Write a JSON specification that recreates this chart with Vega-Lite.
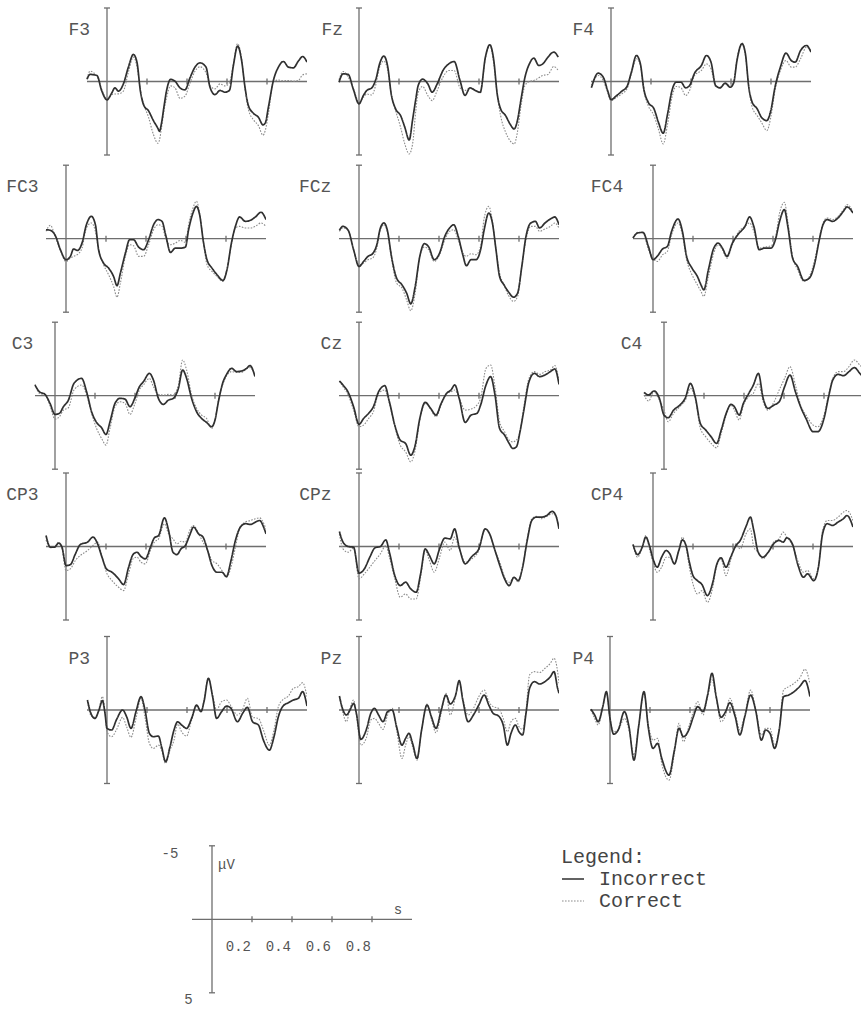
{
"$schema": "https://vega.github.io/schema/vega-lite/v6.json",
"padding": 0,
"background": "white",
"datasets": {
"one": [{"n": 1}],
"caps": [{"uv": -5}, {"uv": 5}],
"xticks": [{"t": 0.2}, {"t": 0.4}, {"t": 0.6}, {"t": 0.8}],
"eeg": [
{"ch":"F3","t":-0.1,"Incorrect":-0.15,"Correct":-0.2},{"ch":"F3","t":-0.085,"Incorrect":-0.48,"Correct":-0.7},{"ch":"F3","t":-0.05,"Incorrect":-0.41,"Correct":-0.34},{"ch":"F3","t":-0.027,"Incorrect":0.61,"Correct":0.5},{"ch":"F3","t":0,"Incorrect":1.25,"Correct":1.18},{"ch":"F3","t":0.023,"Incorrect":0.8,"Correct":0.9},{"ch":"F3","t":0.04,"Incorrect":0.43,"Correct":0.85},{"ch":"F3","t":0.057,"Incorrect":0.66,"Correct":0.84},{"ch":"F3","t":0.082,"Incorrect":0.16,"Correct":0.65},{"ch":"F3","t":0.107,"Incorrect":-0.98,"Correct":-0.64},{"ch":"F3","t":0.132,"Incorrect":-1.84,"Correct":-1.66},{"ch":"F3","t":0.15,"Incorrect":-1.3,"Correct":-1.0},{"ch":"F3","t":0.167,"Incorrect":0.65,"Correct":0.6},{"ch":"F3","t":0.185,"Incorrect":1.65,"Correct":1.6},{"ch":"F3","t":0.207,"Incorrect":1.98,"Correct":2.4},{"ch":"F3","t":0.232,"Incorrect":2.66,"Correct":3.6},{"ch":"F3","t":0.255,"Incorrect":3.2,"Correct":4.2},{"ch":"F3","t":0.262,"Incorrect":3.39,"Correct":4.0},{"ch":"F3","t":0.273,"Incorrect":2.8,"Correct":3.11},{"ch":"F3","t":0.285,"Incorrect":1.7,"Correct":2.0},{"ch":"F3","t":0.298,"Incorrect":0.61,"Correct":1.1},{"ch":"F3","t":0.318,"Incorrect":-0.14,"Correct":0.3},{"ch":"F3","t":0.34,"Incorrect":-0.02,"Correct":0.43},{"ch":"F3","t":0.365,"Incorrect":0.43,"Correct":1.15},{"ch":"F3","t":0.39,"Incorrect":0.57,"Correct":1.0},{"ch":"F3","t":0.415,"Incorrect":-0.25,"Correct":0.1},{"ch":"F3","t":0.44,"Incorrect":-0.98,"Correct":-0.7},{"ch":"F3","t":0.465,"Incorrect":-1.27,"Correct":-1.0},{"ch":"F3","t":0.495,"Incorrect":-0.98,"Correct":-0.6},{"ch":"F3","t":0.515,"Incorrect":0.39,"Correct":0.27},{"ch":"F3","t":0.54,"Incorrect":0.89,"Correct":0.5},{"ch":"F3","t":0.565,"Incorrect":0.61,"Correct":0.16},{"ch":"F3","t":0.59,"Incorrect":0.73,"Correct":0.3},{"ch":"F3","t":0.612,"Incorrect":0.61,"Correct":0.1},{"ch":"F3","t":0.632,"Incorrect":-1.09,"Correct":-1.2},{"ch":"F3","t":0.653,"Incorrect":-2.41,"Correct":-2.57},{"ch":"F3","t":0.673,"Incorrect":-1.43,"Correct":-1.55},{"ch":"F3","t":0.69,"Incorrect":0.39,"Correct":0.5},{"ch":"F3","t":0.707,"Incorrect":1.64,"Correct":1.9},{"ch":"F3","t":0.732,"Incorrect":2.16,"Correct":2.6},{"ch":"F3","t":0.757,"Incorrect":2.43,"Correct":3.0},{"ch":"F3","t":0.78,"Incorrect":2.95,"Correct":3.65},{"ch":"F3","t":0.792,"Incorrect":2.8,"Correct":3.3},{"ch":"F3","t":0.807,"Incorrect":1.75,"Correct":2.2},{"ch":"F3","t":0.832,"Incorrect":-0.07,"Correct":0.0},{"ch":"F3","t":0.857,"Incorrect":-0.98,"Correct":-0.1},{"ch":"F3","t":0.882,"Incorrect":-1.36,"Correct":-0.05},{"ch":"F3","t":0.907,"Incorrect":-0.98,"Correct":-0.07},{"ch":"F3","t":0.932,"Incorrect":-0.93,"Correct":-0.02},{"ch":"F3","t":0.957,"Incorrect":-1.39,"Correct":-0.07},{"ch":"F3","t":0.978,"Incorrect":-1.7,"Correct":-0.45},{"ch":"F3","t":1.0,"Incorrect":-1.32,"Correct":-0.52},
{"ch":"Fz","t":-0.1,"Incorrect":0.05,"Correct":-0.11},{"ch":"Fz","t":-0.08,"Incorrect":-0.52,"Correct":-0.68},{"ch":"Fz","t":-0.054,"Incorrect":-0.48,"Correct":-0.3},{"ch":"Fz","t":-0.029,"Incorrect":0.5,"Correct":0.43},{"ch":"Fz","t":0,"Incorrect":1.52,"Correct":1.41},{"ch":"Fz","t":0.022,"Incorrect":0.95,"Correct":1.07},{"ch":"Fz","t":0.039,"Incorrect":0.61,"Correct":0.85},{"ch":"Fz","t":0.064,"Incorrect":0.43,"Correct":0.92},{"ch":"Fz","t":0.085,"Incorrect":-0.18,"Correct":0.16},{"ch":"Fz","t":0.103,"Incorrect":-1.2,"Correct":-0.98},{"ch":"Fz","t":0.124,"Incorrect":-1.73,"Correct":-1.39},{"ch":"Fz","t":0.144,"Incorrect":-0.98,"Correct":-0.75},{"ch":"Fz","t":0.161,"Incorrect":0.84,"Correct":0.84},{"ch":"Fz","t":0.183,"Incorrect":1.86,"Correct":1.98},{"ch":"Fz","t":0.208,"Incorrect":2.32,"Correct":3.11},{"ch":"Fz","t":0.229,"Incorrect":3.11,"Correct":4.25},{"ch":"Fz","t":0.251,"Incorrect":3.98,"Correct":4.93},{"ch":"Fz","t":0.268,"Incorrect":2.6,"Correct":4.25},{"ch":"Fz","t":0.284,"Incorrect":1.2,"Correct":1.98},{"ch":"Fz","t":0.296,"Incorrect":0.27,"Correct":0.75},{"ch":"Fz","t":0.318,"Incorrect":-0.16,"Correct":0.34},{"ch":"Fz","t":0.344,"Incorrect":0.16,"Correct":0.95},{"ch":"Fz","t":0.366,"Incorrect":0.73,"Correct":1.3},{"ch":"Fz","t":0.391,"Incorrect":0.16,"Correct":0.61},{"ch":"Fz","t":0.42,"Incorrect":-0.75,"Correct":-0.3},{"ch":"Fz","t":0.449,"Incorrect":-1.2,"Correct":-0.75},{"ch":"Fz","t":0.476,"Incorrect":-1.36,"Correct":-0.75},{"ch":"Fz","t":0.505,"Incorrect":-0.07,"Correct":0.43},{"ch":"Fz","t":0.53,"Incorrect":0.95,"Correct":0.61},{"ch":"Fz","t":0.555,"Incorrect":0.43,"Correct":0.43},{"ch":"Fz","t":0.581,"Incorrect":0.61,"Correct":0.57},{"ch":"Fz","t":0.606,"Incorrect":0.73,"Correct":0.8},{"ch":"Fz","t":0.632,"Incorrect":-1.66,"Correct":-1.55},{"ch":"Fz","t":0.654,"Incorrect":-2.5,"Correct":-2.45},{"ch":"Fz","t":0.674,"Incorrect":-1.43,"Correct":-1.2},{"ch":"Fz","t":0.691,"Incorrect":0.84,"Correct":0.84},{"ch":"Fz","t":0.708,"Incorrect":1.86,"Correct":2.32},{"ch":"Fz","t":0.733,"Incorrect":2.32,"Correct":3.45},{"ch":"Fz","t":0.755,"Incorrect":2.89,"Correct":4.02},{"ch":"Fz","t":0.776,"Incorrect":3.23,"Correct":4.25},{"ch":"Fz","t":0.792,"Incorrect":2.66,"Correct":3.45},{"ch":"Fz","t":0.809,"Incorrect":1.3,"Correct":1.75},{"ch":"Fz","t":0.83,"Incorrect":-0.3,"Correct":0.27},{"ch":"Fz","t":0.852,"Incorrect":-1.2,"Correct":0.0},{"ch":"Fz","t":0.874,"Incorrect":-1.59,"Correct":-0.07},{"ch":"Fz","t":0.899,"Incorrect":-1.09,"Correct":-0.25},{"ch":"Fz","t":0.919,"Incorrect":-1.2,"Correct":-0.41},{"ch":"Fz","t":0.945,"Incorrect":-1.66,"Correct":-0.48},{"ch":"Fz","t":0.974,"Incorrect":-2.0,"Correct":-1.02},{"ch":"Fz","t":0.996,"Incorrect":-1.66,"Correct":-0.75},
{"ch":"F4","t":-0.098,"Incorrect":0.43,"Correct":0.27},{"ch":"F4","t":-0.064,"Incorrect":-0.57,"Correct":-0.41},{"ch":"F4","t":-0.039,"Incorrect":-0.3,"Correct":-0.07},{"ch":"F4","t":-0.017,"Incorrect":0.61,"Correct":0.73},{"ch":"F4","t":0,"Incorrect":1.23,"Correct":1.3},{"ch":"F4","t":0.029,"Incorrect":0.95,"Correct":1.07},{"ch":"F4","t":0.054,"Incorrect":0.66,"Correct":0.84},{"ch":"F4","t":0.08,"Incorrect":0.34,"Correct":0.5},{"ch":"F4","t":0.102,"Incorrect":-0.64,"Correct":-0.52},{"ch":"F4","t":0.127,"Incorrect":-1.77,"Correct":-1.55},{"ch":"F4","t":0.147,"Incorrect":-1.2,"Correct":-1.09},{"ch":"F4","t":0.164,"Incorrect":0.5,"Correct":0.61},{"ch":"F4","t":0.186,"Incorrect":1.41,"Correct":1.64},{"ch":"F4","t":0.215,"Incorrect":1.86,"Correct":2.32},{"ch":"F4","t":0.237,"Incorrect":2.77,"Correct":3.23},{"ch":"F4","t":0.261,"Incorrect":3.52,"Correct":4.25},{"ch":"F4","t":0.283,"Incorrect":2.2,"Correct":2.89},{"ch":"F4","t":0.305,"Incorrect":0.61,"Correct":1.07},{"ch":"F4","t":0.325,"Incorrect":0.05,"Correct":0.34},{"ch":"F4","t":0.35,"Incorrect":0.05,"Correct":0.43},{"ch":"F4","t":0.373,"Incorrect":0.43,"Correct":0.95},{"ch":"F4","t":0.393,"Incorrect":0.27,"Correct":0.61},{"ch":"F4","t":0.418,"Incorrect":-0.57,"Correct":-0.41},{"ch":"F4","t":0.452,"Incorrect":-1.09,"Correct":-0.75},{"ch":"F4","t":0.477,"Incorrect":-1.77,"Correct":-1.2},{"ch":"F4","t":0.5,"Incorrect":-1.32,"Correct":-0.86},{"ch":"F4","t":0.523,"Incorrect":0.27,"Correct":0.34},{"ch":"F4","t":0.545,"Incorrect":0.43,"Correct":0.43},{"ch":"F4","t":0.571,"Incorrect":0.11,"Correct":0.16},{"ch":"F4","t":0.596,"Incorrect":0.39,"Correct":0.27},{"ch":"F4","t":0.613,"Incorrect":0.11,"Correct":0.05},{"ch":"F4","t":0.63,"Incorrect":-1.43,"Correct":-1.55},{"ch":"F4","t":0.655,"Incorrect":-2.57,"Correct":-2.61},{"ch":"F4","t":0.672,"Incorrect":-1.89,"Correct":-1.77},{"ch":"F4","t":0.689,"Incorrect":0.39,"Correct":0.39},{"ch":"F4","t":0.706,"Incorrect":1.41,"Correct":1.75},{"ch":"F4","t":0.731,"Incorrect":1.86,"Correct":2.32},{"ch":"F4","t":0.752,"Incorrect":2.43,"Correct":2.77},{"ch":"F4","t":0.779,"Incorrect":2.66,"Correct":3.34},{"ch":"F4","t":0.799,"Incorrect":1.98,"Correct":2.43},{"ch":"F4","t":0.82,"Incorrect":0.39,"Correct":0.61},{"ch":"F4","t":0.847,"Incorrect":-0.98,"Correct":-0.75},{"ch":"F4","t":0.875,"Incorrect":-1.93,"Correct":-1.43},{"ch":"F4","t":0.901,"Incorrect":-1.43,"Correct":-0.98},{"ch":"F4","t":0.921,"Incorrect":-1.32,"Correct":-0.98},{"ch":"F4","t":0.948,"Incorrect":-2.11,"Correct":-1.55},{"ch":"F4","t":0.977,"Incorrect":-2.45,"Correct":-2.34},{"ch":"F4","t":1.0,"Incorrect":-2.0,"Correct":-2.11},
{"ch":"FC3","t":-0.1,"Incorrect":-0.61,"Correct":-0.5},{"ch":"FC3","t":-0.078,"Incorrect":-0.57,"Correct":-0.91},{"ch":"FC3","t":-0.053,"Incorrect":-0.2,"Correct":-0.11},{"ch":"FC3","t":-0.028,"Incorrect":0.75,"Correct":0.8},{"ch":"FC3","t":0,"Incorrect":1.43,"Correct":1.55},{"ch":"FC3","t":0.022,"Incorrect":1.2,"Correct":1.32},{"ch":"FC3","t":0.038,"Incorrect":0.7,"Correct":1.2},{"ch":"FC3","t":0.058,"Incorrect":0.8,"Correct":1.07},{"ch":"FC3","t":0.08,"Incorrect":0.3,"Correct":0.64},{"ch":"FC3","t":0.102,"Incorrect":-0.95,"Correct":-0.73},{"ch":"FC3","t":0.127,"Incorrect":-1.52,"Correct":-1.07},{"ch":"FC3","t":0.147,"Incorrect":-0.95,"Correct":-0.5},{"ch":"FC3","t":0.163,"Incorrect":0.75,"Correct":0.75},{"ch":"FC3","t":0.188,"Incorrect":1.66,"Correct":1.77},{"ch":"FC3","t":0.213,"Incorrect":2.0,"Correct":2.45},{"ch":"FC3","t":0.238,"Incorrect":2.57,"Correct":3.25},{"ch":"FC3","t":0.255,"Incorrect":3.2,"Correct":3.98},{"ch":"FC3","t":0.272,"Incorrect":2.34,"Correct":3.02},{"ch":"FC3","t":0.297,"Incorrect":0.98,"Correct":1.2},{"ch":"FC3","t":0.318,"Incorrect":0.07,"Correct":0.41},{"ch":"FC3","t":0.338,"Incorrect":0.07,"Correct":0.48},{"ch":"FC3","t":0.363,"Incorrect":0.57,"Correct":1.2},{"ch":"FC3","t":0.388,"Incorrect":0.75,"Correct":1.2},{"ch":"FC3","t":0.413,"Incorrect":0.07,"Correct":0.41},{"ch":"FC3","t":0.438,"Incorrect":-0.95,"Correct":-0.61},{"ch":"FC3","t":0.46,"Incorrect":-1.3,"Correct":-0.95},{"ch":"FC3","t":0.48,"Incorrect":-1.18,"Correct":-0.84},{"ch":"FC3","t":0.5,"Incorrect":-0.16,"Correct":0.07},{"ch":"FC3","t":0.522,"Incorrect":0.93,"Correct":0.41},{"ch":"FC3","t":0.547,"Incorrect":0.64,"Correct":0.3},{"ch":"FC3","t":0.572,"Incorrect":0.64,"Correct":0.11},{"ch":"FC3","t":0.597,"Incorrect":0.57,"Correct":0.25},{"ch":"FC3","t":0.613,"Incorrect":-0.61,"Correct":-0.95},{"ch":"FC3","t":0.635,"Incorrect":-1.75,"Correct":-2.09},{"ch":"FC3","t":0.652,"Incorrect":-2.2,"Correct":-2.55},{"ch":"FC3","t":0.668,"Incorrect":-1.64,"Correct":-1.75},{"ch":"FC3","t":0.688,"Incorrect":0.3,"Correct":0.3},{"ch":"FC3","t":0.705,"Incorrect":1.43,"Correct":1.77},{"ch":"FC3","t":0.73,"Incorrect":2.0,"Correct":2.23},{"ch":"FC3","t":0.755,"Incorrect":2.45,"Correct":2.57},{"ch":"FC3","t":0.785,"Incorrect":2.84,"Correct":2.91},{"ch":"FC3","t":0.805,"Incorrect":2.1,"Correct":2.1},{"ch":"FC3","t":0.827,"Incorrect":0.3,"Correct":0.41},{"ch":"FC3","t":0.847,"Incorrect":-0.84,"Correct":-0.73},{"ch":"FC3","t":0.868,"Incorrect":-1.48,"Correct":-0.84},{"ch":"FC3","t":0.897,"Incorrect":-1.18,"Correct":-0.73},{"ch":"FC3","t":0.922,"Incorrect":-1.25,"Correct":-0.73},{"ch":"FC3","t":0.947,"Incorrect":-1.48,"Correct":-0.84},{"ch":"FC3","t":0.975,"Incorrect":-1.8,"Correct":-1.07},{"ch":"FC3","t":1.0,"Incorrect":-1.3,"Correct":-0.84},
{"ch":"FCz","t":-0.098,"Incorrect":-0.57,"Correct":-0.5},{"ch":"FCz","t":-0.08,"Incorrect":-0.84,"Correct":-0.73},{"ch":"FCz","t":-0.054,"Incorrect":-0.57,"Correct":-0.57},{"ch":"FCz","t":-0.027,"Incorrect":0.75,"Correct":0.75},{"ch":"FCz","t":0,"Incorrect":1.89,"Correct":1.77},{"ch":"FCz","t":0.023,"Incorrect":1.55,"Correct":1.66},{"ch":"FCz","t":0.045,"Incorrect":1.2,"Correct":1.43},{"ch":"FCz","t":0.068,"Incorrect":1.02,"Correct":1.32},{"ch":"FCz","t":0.089,"Incorrect":0.41,"Correct":0.64},{"ch":"FCz","t":0.107,"Incorrect":-0.73,"Correct":-0.61},{"ch":"FCz","t":0.125,"Incorrect":-1.07,"Correct":-0.95},{"ch":"FCz","t":0.143,"Incorrect":-0.5,"Correct":-0.39},{"ch":"FCz","t":0.161,"Incorrect":1.09,"Correct":1.2},{"ch":"FCz","t":0.188,"Incorrect":2.68,"Correct":3.02},{"ch":"FCz","t":0.215,"Incorrect":3.14,"Correct":3.36},{"ch":"FCz","t":0.238,"Incorrect":3.7,"Correct":4.16},{"ch":"FCz","t":0.259,"Incorrect":4.43,"Correct":4.9},{"ch":"FCz","t":0.281,"Incorrect":3.25,"Correct":3.7},{"ch":"FCz","t":0.304,"Incorrect":1.2,"Correct":1.2},{"ch":"FCz","t":0.327,"Incorrect":0.34,"Correct":0.57},{"ch":"FCz","t":0.349,"Incorrect":0.57,"Correct":0.75},{"ch":"FCz","t":0.376,"Incorrect":1.43,"Correct":1.55},{"ch":"FCz","t":0.403,"Incorrect":0.98,"Correct":1.09},{"ch":"FCz","t":0.429,"Incorrect":-0.16,"Correct":0.07},{"ch":"FCz","t":0.453,"Incorrect":-0.73,"Correct":-0.5},{"ch":"FCz","t":0.474,"Incorrect":-0.95,"Correct":-0.61},{"ch":"FCz","t":0.496,"Incorrect":-0.16,"Correct":0.07},{"ch":"FCz","t":0.519,"Incorrect":1.09,"Correct":0.98},{"ch":"FCz","t":0.537,"Incorrect":1.84,"Correct":1.2},{"ch":"FCz","t":0.56,"Incorrect":1.43,"Correct":1.02},{"ch":"FCz","t":0.585,"Incorrect":1.43,"Correct":1.09},{"ch":"FCz","t":0.608,"Incorrect":0.75,"Correct":0.52},{"ch":"FCz","t":0.626,"Incorrect":-0.61,"Correct":-1.41},{"ch":"FCz","t":0.649,"Incorrect":-1.75,"Correct":-2.2},{"ch":"FCz","t":0.667,"Incorrect":-1.07,"Correct":-1.18},{"ch":"FCz","t":0.685,"Incorrect":0.75,"Correct":0.75},{"ch":"FCz","t":0.703,"Incorrect":2.57,"Correct":2.34},{"ch":"FCz","t":0.725,"Incorrect":3.14,"Correct":3.14},{"ch":"FCz","t":0.746,"Incorrect":3.59,"Correct":3.82},{"ch":"FCz","t":0.773,"Incorrect":3.98,"Correct":4.27},{"ch":"FCz","t":0.793,"Incorrect":3.7,"Correct":3.93},{"ch":"FCz","t":0.814,"Incorrect":1.89,"Correct":1.89},{"ch":"FCz","t":0.835,"Incorrect":-0.16,"Correct":0.07},{"ch":"FCz","t":0.859,"Incorrect":-1.07,"Correct":-0.84},{"ch":"FCz","t":0.882,"Incorrect":-1.18,"Correct":-0.84},{"ch":"FCz","t":0.903,"Incorrect":-0.73,"Correct":-0.5},{"ch":"FCz","t":0.93,"Incorrect":-1.07,"Correct":-0.66},{"ch":"FCz","t":0.957,"Incorrect":-1.34,"Correct":-0.84},{"ch":"FCz","t":0.979,"Incorrect":-1.48,"Correct":-1.07},{"ch":"FCz","t":1.0,"Incorrect":-0.95,"Correct":-0.73},
{"ch":"FC4","t":-0.1,"Incorrect":-0.05,"Correct":-0.05},{"ch":"FC4","t":-0.077,"Incorrect":-0.39,"Correct":-0.43},{"ch":"FC4","t":-0.05,"Incorrect":-0.43,"Correct":-0.39},{"ch":"FC4","t":-0.023,"Incorrect":0.52,"Correct":0.75},{"ch":"FC4","t":0,"Incorrect":1.43,"Correct":1.32},{"ch":"FC4","t":0.021,"Incorrect":1.2,"Correct":1.55},{"ch":"FC4","t":0.048,"Incorrect":0.7,"Correct":1.09},{"ch":"FC4","t":0.072,"Incorrect":0.52,"Correct":0.86},{"ch":"FC4","t":0.093,"Incorrect":-0.5,"Correct":-0.27},{"ch":"FC4","t":0.125,"Incorrect":-1.34,"Correct":-1.07},{"ch":"FC4","t":0.147,"Incorrect":-0.5,"Correct":-0.27},{"ch":"FC4","t":0.168,"Incorrect":1.2,"Correct":1.43},{"ch":"FC4","t":0.195,"Incorrect":2.0,"Correct":2.45},{"ch":"FC4","t":0.222,"Incorrect":2.57,"Correct":3.14},{"ch":"FC4","t":0.24,"Incorrect":3.14,"Correct":3.59},{"ch":"FC4","t":0.254,"Incorrect":3.48,"Correct":3.93},{"ch":"FC4","t":0.277,"Incorrect":2.11,"Correct":2.57},{"ch":"FC4","t":0.304,"Incorrect":0.64,"Correct":0.98},{"ch":"FC4","t":0.326,"Incorrect":0.3,"Correct":0.41},{"ch":"FC4","t":0.347,"Incorrect":0.64,"Correct":0.75},{"ch":"FC4","t":0.37,"Incorrect":1.2,"Correct":1.32},{"ch":"FC4","t":0.397,"Incorrect":0.3,"Correct":0.41},{"ch":"FC4","t":0.424,"Incorrect":-0.27,"Correct":-0.39},{"ch":"FC4","t":0.46,"Incorrect":-0.84,"Correct":-0.84},{"ch":"FC4","t":0.483,"Incorrect":-1.48,"Correct":-1.07},{"ch":"FC4","t":0.504,"Incorrect":-0.84,"Correct":-0.5},{"ch":"FC4","t":0.531,"Incorrect":0.75,"Correct":0.64},{"ch":"FC4","t":0.558,"Incorrect":0.64,"Correct":0.57},{"ch":"FC4","t":0.59,"Incorrect":0.64,"Correct":0.48},{"ch":"FC4","t":0.612,"Incorrect":0.07,"Correct":-0.05},{"ch":"FC4","t":0.633,"Incorrect":-1.18,"Correct":-1.75},{"ch":"FC4","t":0.657,"Incorrect":-1.98,"Correct":-2.48},{"ch":"FC4","t":0.674,"Incorrect":-0.84,"Correct":-1.18},{"ch":"FC4","t":0.698,"Incorrect":1.32,"Correct":1.2},{"ch":"FC4","t":0.723,"Incorrect":1.89,"Correct":2.11},{"ch":"FC4","t":0.755,"Incorrect":2.84,"Correct":2.91},{"ch":"FC4","t":0.782,"Incorrect":2.68,"Correct":2.57},{"ch":"FC4","t":0.809,"Incorrect":1.66,"Correct":1.43},{"ch":"FC4","t":0.83,"Incorrect":0.18,"Correct":0.07},{"ch":"FC4","t":0.85,"Incorrect":-0.95,"Correct":-1.07},{"ch":"FC4","t":0.871,"Incorrect":-1.3,"Correct":-1.41},{"ch":"FC4","t":0.898,"Incorrect":-1.18,"Correct":-1.3},{"ch":"FC4","t":0.925,"Incorrect":-1.41,"Correct":-1.52},{"ch":"FC4","t":0.952,"Incorrect":-1.86,"Correct":-1.98},{"ch":"FC4","t":0.97,"Incorrect":-2.16,"Correct":-2.32},{"ch":"FC4","t":1.0,"Incorrect":-1.75,"Correct":-1.86},
{"ch":"C3","t":-0.1,"Incorrect":-0.73,"Correct":-0.77},{"ch":"C3","t":-0.078,"Incorrect":-0.27,"Correct":-0.16},{"ch":"C3","t":-0.05,"Incorrect":-0.09,"Correct":-0.05},{"ch":"C3","t":-0.025,"Incorrect":0.52,"Correct":0.68},{"ch":"C3","t":0,"Incorrect":1.27,"Correct":1.59},{"ch":"C3","t":0.022,"Incorrect":1.2,"Correct":1.43},{"ch":"C3","t":0.042,"Incorrect":0.75,"Correct":0.98},{"ch":"C3","t":0.067,"Incorrect":0.3,"Correct":0.82},{"ch":"C3","t":0.095,"Incorrect":-0.84,"Correct":-0.39},{"ch":"C3","t":0.133,"Incorrect":-1.18,"Correct":-0.73},{"ch":"C3","t":0.158,"Incorrect":-0.27,"Correct":-0.05},{"ch":"C3","t":0.183,"Incorrect":1.09,"Correct":1.2},{"ch":"C3","t":0.208,"Incorrect":1.82,"Correct":2.23},{"ch":"C3","t":0.233,"Incorrect":2.18,"Correct":2.91},{"ch":"C3","t":0.255,"Incorrect":2.64,"Correct":3.36},{"ch":"C3","t":0.275,"Incorrect":1.77,"Correct":2.23},{"ch":"C3","t":0.3,"Incorrect":0.52,"Correct":0.75},{"ch":"C3","t":0.325,"Incorrect":0.18,"Correct":0.41},{"ch":"C3","t":0.35,"Incorrect":0.23,"Correct":0.52},{"ch":"C3","t":0.375,"Incorrect":0.75,"Correct":1.27},{"ch":"C3","t":0.4,"Incorrect":0.14,"Correct":0.52},{"ch":"C3","t":0.422,"Incorrect":-0.61,"Correct":-0.39},{"ch":"C3","t":0.442,"Incorrect":-0.95,"Correct":-0.73},{"ch":"C3","t":0.472,"Incorrect":-1.52,"Correct":-1.18},{"ch":"C3","t":0.492,"Incorrect":-1.07,"Correct":-0.61},{"ch":"C3","t":0.517,"Incorrect":0.18,"Correct":-0.09},{"ch":"C3","t":0.542,"Incorrect":0.59,"Correct":-0.05},{"ch":"C3","t":0.567,"Incorrect":0.3,"Correct":-0.09},{"ch":"C3","t":0.592,"Incorrect":0.18,"Correct":-0.05},{"ch":"C3","t":0.617,"Incorrect":-0.5,"Correct":-0.73},{"ch":"C3","t":0.638,"Incorrect":-1.75,"Correct":-2.43},{"ch":"C3","t":0.658,"Incorrect":-1.18,"Correct":-1.75},{"ch":"C3","t":0.683,"Incorrect":0.18,"Correct":-0.05},{"ch":"C3","t":0.708,"Incorrect":1.09,"Correct":0.86},{"ch":"C3","t":0.733,"Incorrect":1.55,"Correct":1.32},{"ch":"C3","t":0.758,"Incorrect":1.82,"Correct":1.55},{"ch":"C3","t":0.783,"Incorrect":2.11,"Correct":2.23},{"ch":"C3","t":0.8,"Incorrect":1.66,"Correct":1.66},{"ch":"C3","t":0.817,"Incorrect":0.41,"Correct":0.3},{"ch":"C3","t":0.838,"Incorrect":-0.84,"Correct":-0.73},{"ch":"C3","t":0.858,"Incorrect":-1.45,"Correct":-1.36},{"ch":"C3","t":0.883,"Incorrect":-1.86,"Correct":-1.64},{"ch":"C3","t":0.908,"Incorrect":-1.64,"Correct":-1.59},{"ch":"C3","t":0.933,"Incorrect":-1.68,"Correct":-1.59},{"ch":"C3","t":0.958,"Incorrect":-1.86,"Correct":-1.82},{"ch":"C3","t":0.975,"Incorrect":-2.05,"Correct":-1.91},{"ch":"C3","t":1.0,"Incorrect":-1.3,"Correct":-1.41},
{"ch":"Cz","t":-0.098,"Incorrect":-1.0,"Correct":-1.0},{"ch":"Cz","t":-0.08,"Incorrect":-0.73,"Correct":-0.61},{"ch":"Cz","t":-0.054,"Incorrect":-0.23,"Correct":-0.05},{"ch":"Cz","t":-0.027,"Incorrect":0.75,"Correct":0.98},{"ch":"Cz","t":0,"Incorrect":1.95,"Correct":2.11},{"ch":"Cz","t":0.023,"Incorrect":1.55,"Correct":2.0},{"ch":"Cz","t":0.048,"Incorrect":1.2,"Correct":1.55},{"ch":"Cz","t":0.072,"Incorrect":0.75,"Correct":1.09},{"ch":"Cz","t":0.098,"Incorrect":-0.27,"Correct":-0.16},{"ch":"Cz","t":0.129,"Incorrect":-0.68,"Correct":-0.39},{"ch":"Cz","t":0.152,"Incorrect":0.41,"Correct":0.52},{"ch":"Cz","t":0.179,"Incorrect":2.0,"Correct":2.11},{"ch":"Cz","t":0.206,"Incorrect":3.02,"Correct":3.36},{"ch":"Cz","t":0.233,"Incorrect":3.25,"Correct":3.82},{"ch":"Cz","t":0.259,"Incorrect":4.05,"Correct":4.5},{"ch":"Cz","t":0.281,"Incorrect":3.36,"Correct":3.7},{"ch":"Cz","t":0.304,"Incorrect":1.55,"Correct":1.66},{"ch":"Cz","t":0.331,"Incorrect":0.45,"Correct":0.52},{"ch":"Cz","t":0.358,"Incorrect":0.86,"Correct":0.91},{"ch":"Cz","t":0.385,"Incorrect":1.32,"Correct":1.43},{"ch":"Cz","t":0.411,"Incorrect":0.52,"Correct":0.64},{"ch":"Cz","t":0.438,"Incorrect":-0.16,"Correct":-0.16},{"ch":"Cz","t":0.46,"Incorrect":-0.39,"Correct":-0.27},{"ch":"Cz","t":0.479,"Incorrect":-0.73,"Correct":-0.39},{"ch":"Cz","t":0.501,"Incorrect":0.18,"Correct":0.18},{"ch":"Cz","t":0.531,"Incorrect":1.82,"Correct":0.98},{"ch":"Cz","t":0.56,"Incorrect":1.32,"Correct":0.91},{"ch":"Cz","t":0.59,"Incorrect":1.2,"Correct":0.64},{"ch":"Cz","t":0.608,"Incorrect":0.64,"Correct":0.18},{"ch":"Cz","t":0.635,"Incorrect":-0.73,"Correct":-1.86},{"ch":"Cz","t":0.658,"Incorrect":-1.3,"Correct":-2.09},{"ch":"Cz","t":0.68,"Incorrect":-0.05,"Correct":-0.61},{"ch":"Cz","t":0.703,"Incorrect":2.23,"Correct":1.77},{"ch":"Cz","t":0.728,"Incorrect":2.68,"Correct":2.45},{"ch":"Cz","t":0.751,"Incorrect":3.25,"Correct":3.02},{"ch":"Cz","t":0.769,"Incorrect":3.59,"Correct":3.14},{"ch":"Cz","t":0.787,"Incorrect":3.48,"Correct":3.02},{"ch":"Cz","t":0.805,"Incorrect":2.45,"Correct":2.45},{"ch":"Cz","t":0.823,"Incorrect":1.09,"Correct":0.86},{"ch":"Cz","t":0.85,"Incorrect":-0.95,"Correct":-1.18},{"ch":"Cz","t":0.877,"Incorrect":-1.52,"Correct":-1.64},{"ch":"Cz","t":0.903,"Incorrect":-1.3,"Correct":-1.45},{"ch":"Cz","t":0.93,"Incorrect":-1.41,"Correct":-1.64},{"ch":"Cz","t":0.957,"Incorrect":-1.64,"Correct":-1.75},{"ch":"Cz","t":0.979,"Incorrect":-1.82,"Correct":-2.05},{"ch":"Cz","t":1.0,"Incorrect":-0.77,"Correct":-0.95},
{"ch":"C4","t":-0.1,"Incorrect":-0.23,"Correct":-0.05},{"ch":"C4","t":-0.077,"Incorrect":-0.05,"Correct":0.36},{"ch":"C4","t":-0.05,"Incorrect":-0.32,"Correct":-0.27},{"ch":"C4","t":-0.023,"Incorrect":0.18,"Correct":0.3},{"ch":"C4","t":0,"Incorrect":1.32,"Correct":0.98},{"ch":"C4","t":0.021,"Incorrect":1.5,"Correct":1.77},{"ch":"C4","t":0.048,"Incorrect":0.98,"Correct":1.2},{"ch":"C4","t":0.079,"Incorrect":0.64,"Correct":0.75},{"ch":"C4","t":0.107,"Incorrect":0.14,"Correct":0.3},{"ch":"C4","t":0.132,"Incorrect":-0.84,"Correct":-0.5},{"ch":"C4","t":0.156,"Incorrect":0.07,"Correct":0.18},{"ch":"C4","t":0.182,"Incorrect":1.89,"Correct":2.23},{"ch":"C4","t":0.209,"Incorrect":2.34,"Correct":2.8},{"ch":"C4","t":0.236,"Incorrect":2.8,"Correct":3.25},{"ch":"C4","t":0.263,"Incorrect":3.25,"Correct":3.55},{"ch":"C4","t":0.286,"Incorrect":2.34,"Correct":2.57},{"ch":"C4","t":0.311,"Incorrect":1.2,"Correct":1.32},{"ch":"C4","t":0.335,"Incorrect":0.59,"Correct":0.64},{"ch":"C4","t":0.352,"Incorrect":0.75,"Correct":0.98},{"ch":"C4","t":0.376,"Incorrect":1.32,"Correct":1.66},{"ch":"C4","t":0.397,"Incorrect":0.52,"Correct":0.64},{"ch":"C4","t":0.424,"Incorrect":-0.16,"Correct":0.07},{"ch":"C4","t":0.447,"Incorrect":-0.73,"Correct":-0.16},{"ch":"C4","t":0.472,"Incorrect":-1.52,"Correct":-0.84},{"ch":"C4","t":0.496,"Incorrect":0.18,"Correct":0.41},{"ch":"C4","t":0.519,"Incorrect":0.86,"Correct":0.98},{"ch":"C4","t":0.549,"Incorrect":0.64,"Correct":0.45},{"ch":"C4","t":0.576,"Incorrect":0.41,"Correct":-0.39},{"ch":"C4","t":0.603,"Incorrect":-0.61,"Correct":-1.18},{"ch":"C4","t":0.63,"Incorrect":-1.41,"Correct":-1.98},{"ch":"C4","t":0.657,"Incorrect":-0.27,"Correct":-0.73},{"ch":"C4","t":0.683,"Incorrect":0.75,"Correct":0.64},{"ch":"C4","t":0.71,"Incorrect":1.55,"Correct":1.32},{"ch":"C4","t":0.746,"Incorrect":2.45,"Correct":2.0},{"ch":"C4","t":0.769,"Incorrect":2.45,"Correct":2.11},{"ch":"C4","t":0.8,"Incorrect":1.55,"Correct":1.32},{"ch":"C4","t":0.823,"Incorrect":0.07,"Correct":-0.05},{"ch":"C4","t":0.844,"Incorrect":-1.07,"Correct":-1.18},{"ch":"C4","t":0.871,"Incorrect":-1.45,"Correct":-1.64},{"ch":"C4","t":0.898,"Incorrect":-1.36,"Correct":-1.64},{"ch":"C4","t":0.925,"Incorrect":-1.64,"Correct":-1.98},{"ch":"C4","t":0.952,"Incorrect":-1.91,"Correct":-2.43},{"ch":"C4","t":0.979,"Incorrect":-1.52,"Correct":-2.09},{"ch":"C4","t":1.0,"Incorrect":-1.2,"Correct":-1.8},
{"ch":"CP3","t":-0.1,"Incorrect":-0.75,"Correct":-0.45},{"ch":"CP3","t":-0.078,"Incorrect":0.05,"Correct":0.09},{"ch":"CP3","t":-0.058,"Incorrect":0.05,"Correct":0.05},{"ch":"CP3","t":-0.037,"Incorrect":-0.23,"Correct":-0.3},{"ch":"CP3","t":-0.02,"Incorrect":0.05,"Correct":0.16},{"ch":"CP3","t":0,"Incorrect":1.3,"Correct":1.64},{"ch":"CP3","t":0.022,"Incorrect":1.23,"Correct":1.52},{"ch":"CP3","t":0.047,"Incorrect":0.5,"Correct":0.95},{"ch":"CP3","t":0.072,"Incorrect":-0.14,"Correct":0.61},{"ch":"CP3","t":0.108,"Incorrect":-0.3,"Correct":0.27},{"ch":"CP3","t":0.135,"Incorrect":-0.64,"Correct":-0.07},{"ch":"CP3","t":0.158,"Incorrect":-0.18,"Correct":-0.3},{"ch":"CP3","t":0.18,"Incorrect":0.73,"Correct":0.68},{"ch":"CP3","t":0.202,"Incorrect":1.52,"Correct":1.75},{"ch":"CP3","t":0.23,"Incorrect":1.75,"Correct":2.32},{"ch":"CP3","t":0.263,"Incorrect":2.2,"Correct":2.77},{"ch":"CP3","t":0.288,"Incorrect":2.59,"Correct":3.0},{"ch":"CP3","t":0.313,"Incorrect":1.41,"Correct":1.86},{"ch":"CP3","t":0.335,"Incorrect":0.55,"Correct":0.84},{"ch":"CP3","t":0.355,"Incorrect":0.39,"Correct":0.73},{"ch":"CP3","t":0.375,"Incorrect":0.68,"Correct":1.07},{"ch":"CP3","t":0.397,"Incorrect":0.84,"Correct":1.18},{"ch":"CP3","t":0.422,"Incorrect":0.05,"Correct":0.27},{"ch":"CP3","t":0.442,"Incorrect":-0.59,"Correct":-0.3},{"ch":"CP3","t":0.463,"Incorrect":-0.75,"Correct":-0.52},{"ch":"CP3","t":0.492,"Incorrect":-1.95,"Correct":-1.55},{"ch":"CP3","t":0.513,"Incorrect":-1.09,"Correct":-0.86},{"ch":"CP3","t":0.535,"Incorrect":0.39,"Correct":-0.52},{"ch":"CP3","t":0.555,"Incorrect":0.55,"Correct":-0.18},{"ch":"CP3","t":0.575,"Incorrect":0.16,"Correct":-0.36},{"ch":"CP3","t":0.597,"Incorrect":-0.07,"Correct":-0.3},{"ch":"CP3","t":0.618,"Incorrect":-0.75,"Correct":-1.09},{"ch":"CP3","t":0.638,"Incorrect":-1.32,"Correct":-1.43},{"ch":"CP3","t":0.663,"Incorrect":-0.86,"Correct":-0.86},{"ch":"CP3","t":0.685,"Incorrect":-0.64,"Correct":-0.3},{"ch":"CP3","t":0.708,"Incorrect":0.27,"Correct":0.27},{"ch":"CP3","t":0.73,"Incorrect":1.3,"Correct":0.95},{"ch":"CP3","t":0.755,"Incorrect":1.75,"Correct":1.18},{"ch":"CP3","t":0.78,"Incorrect":1.75,"Correct":1.64},{"ch":"CP3","t":0.802,"Incorrect":2.05,"Correct":2.09},{"ch":"CP3","t":0.825,"Incorrect":0.95,"Correct":1.41},{"ch":"CP3","t":0.847,"Incorrect":-0.41,"Correct":0.05},{"ch":"CP3","t":0.872,"Incorrect":-1.32,"Correct":-1.36},{"ch":"CP3","t":0.897,"Incorrect":-1.55,"Correct":-1.66},{"ch":"CP3","t":0.922,"Incorrect":-1.5,"Correct":-1.77},{"ch":"CP3","t":0.947,"Incorrect":-1.66,"Correct":-1.89},{"ch":"CP3","t":0.968,"Incorrect":-1.77,"Correct":-1.95},{"ch":"CP3","t":0.988,"Incorrect":-1.32,"Correct":-1.59},{"ch":"CP3","t":1.0,"Incorrect":-0.86,"Correct":-1.2},
{"ch":"CPz","t":-0.098,"Incorrect":-1.02,"Correct":-0.86},{"ch":"CPz","t":-0.08,"Incorrect":-0.3,"Correct":0.16},{"ch":"CPz","t":-0.054,"Incorrect":0.0,"Correct":0.39},{"ch":"CPz","t":-0.027,"Incorrect":0.05,"Correct":0.09},{"ch":"CPz","t":0,"Incorrect":1.82,"Correct":2.2},{"ch":"CPz","t":0.027,"Incorrect":1.52,"Correct":1.86},{"ch":"CPz","t":0.054,"Incorrect":0.73,"Correct":1.41},{"ch":"CPz","t":0.08,"Incorrect":0.09,"Correct":0.95},{"ch":"CPz","t":0.107,"Incorrect":0.0,"Correct":0.5},{"ch":"CPz","t":0.134,"Incorrect":-0.45,"Correct":-0.07},{"ch":"CPz","t":0.152,"Incorrect":0.39,"Correct":0.73},{"ch":"CPz","t":0.179,"Incorrect":1.98,"Correct":2.2},{"ch":"CPz","t":0.206,"Incorrect":2.66,"Correct":3.45},{"ch":"CPz","t":0.233,"Incorrect":2.43,"Correct":3.23},{"ch":"CPz","t":0.259,"Incorrect":2.89,"Correct":3.57},{"ch":"CPz","t":0.286,"Incorrect":3.11,"Correct":3.57},{"ch":"CPz","t":0.308,"Incorrect":1.86,"Correct":2.09},{"ch":"CPz","t":0.331,"Incorrect":0.16,"Correct":0.27},{"ch":"CPz","t":0.352,"Incorrect":0.61,"Correct":0.95},{"ch":"CPz","t":0.376,"Incorrect":1.18,"Correct":1.75},{"ch":"CPz","t":0.403,"Incorrect":0.16,"Correct":0.73},{"ch":"CPz","t":0.429,"Incorrect":-0.57,"Correct":-0.3},{"ch":"CPz","t":0.456,"Incorrect":-0.52,"Correct":0.27},{"ch":"CPz","t":0.478,"Incorrect":-1.2,"Correct":-0.64},{"ch":"CPz","t":0.501,"Incorrect":0.05,"Correct":0.16},{"ch":"CPz","t":0.531,"Incorrect":1.18,"Correct":1.07},{"ch":"CPz","t":0.564,"Incorrect":0.68,"Correct":0.84},{"ch":"CPz","t":0.599,"Incorrect":0.16,"Correct":0.27},{"ch":"CPz","t":0.631,"Incorrect":-1.2,"Correct":-1.2},{"ch":"CPz","t":0.653,"Incorrect":-0.86,"Correct":-0.86},{"ch":"CPz","t":0.68,"Incorrect":0.27,"Correct":0.27},{"ch":"CPz","t":0.707,"Incorrect":1.41,"Correct":1.18},{"ch":"CPz","t":0.728,"Incorrect":2.2,"Correct":2.09},{"ch":"CPz","t":0.751,"Incorrect":2.66,"Correct":2.43},{"ch":"CPz","t":0.775,"Incorrect":2.09,"Correct":2.09},{"ch":"CPz","t":0.796,"Incorrect":2.32,"Correct":2.43},{"ch":"CPz","t":0.818,"Incorrect":1.41,"Correct":1.41},{"ch":"CPz","t":0.841,"Incorrect":-0.41,"Correct":-0.52},{"ch":"CPz","t":0.864,"Incorrect":-1.77,"Correct":-1.89},{"ch":"CPz","t":0.886,"Incorrect":-2.0,"Correct":-2.05},{"ch":"CPz","t":0.912,"Incorrect":-2.0,"Correct":-1.89},{"ch":"CPz","t":0.939,"Incorrect":-2.11,"Correct":-2.05},{"ch":"CPz","t":0.966,"Incorrect":-2.39,"Correct":-2.23},{"ch":"CPz","t":0.984,"Incorrect":-2.11,"Correct":-2.11},{"ch":"CPz","t":1.0,"Incorrect":-1.2,"Correct":-1.2},
{"ch":"CP4","t":-0.1,"Incorrect":-0.14,"Correct":-0.14},{"ch":"CP4","t":-0.077,"Incorrect":0.55,"Correct":0.73},{"ch":"CP4","t":-0.054,"Incorrect":0.05,"Correct":0.05},{"ch":"CP4","t":-0.036,"Incorrect":-0.64,"Correct":-0.75},{"ch":"CP4","t":-0.018,"Incorrect":-0.07,"Correct":0.16},{"ch":"CP4","t":0,"Incorrect":0.84,"Correct":1.07},{"ch":"CP4","t":0.021,"Incorrect":1.41,"Correct":1.75},{"ch":"CP4","t":0.043,"Incorrect":0.73,"Correct":1.41},{"ch":"CP4","t":0.066,"Incorrect":0.27,"Correct":0.73},{"ch":"CP4","t":0.084,"Incorrect":0.5,"Correct":0.73},{"ch":"CP4","t":0.107,"Incorrect":1.18,"Correct":1.18},{"ch":"CP4","t":0.129,"Incorrect":0.27,"Correct":0.27},{"ch":"CP4","t":0.147,"Incorrect":-0.45,"Correct":-0.64},{"ch":"CP4","t":0.165,"Incorrect":-0.07,"Correct":0.05},{"ch":"CP4","t":0.182,"Incorrect":1.07,"Correct":1.41},{"ch":"CP4","t":0.2,"Incorrect":1.98,"Correct":2.55},{"ch":"CP4","t":0.222,"Incorrect":2.32,"Correct":3.23},{"ch":"CP4","t":0.245,"Incorrect":2.59,"Correct":3.0},{"ch":"CP4","t":0.272,"Incorrect":3.34,"Correct":3.8},{"ch":"CP4","t":0.299,"Incorrect":2.43,"Correct":2.77},{"ch":"CP4","t":0.317,"Incorrect":1.3,"Correct":1.41},{"ch":"CP4","t":0.34,"Incorrect":0.77,"Correct":0.84},{"ch":"CP4","t":0.365,"Incorrect":1.41,"Correct":1.98},{"ch":"CP4","t":0.388,"Incorrect":0.73,"Correct":0.95},{"ch":"CP4","t":0.415,"Incorrect":-0.07,"Correct":-0.18},{"ch":"CP4","t":0.436,"Incorrect":-0.41,"Correct":0.16},{"ch":"CP4","t":0.465,"Incorrect":-1.36,"Correct":-0.86},{"ch":"CP4","t":0.487,"Incorrect":-2.0,"Correct":-1.2},{"ch":"CP4","t":0.504,"Incorrect":-1.09,"Correct":0.05},{"ch":"CP4","t":0.526,"Incorrect":0.39,"Correct":0.39},{"ch":"CP4","t":0.549,"Incorrect":0.73,"Correct":0.84},{"ch":"CP4","t":0.576,"Incorrect":0.39,"Correct":0.39},{"ch":"CP4","t":0.603,"Incorrect":-0.18,"Correct":-0.3},{"ch":"CP4","t":0.63,"Incorrect":-0.41,"Correct":-0.52},{"ch":"CP4","t":0.651,"Incorrect":-0.3,"Correct":-0.98},{"ch":"CP4","t":0.669,"Incorrect":-0.59,"Correct":-0.64},{"ch":"CP4","t":0.698,"Incorrect":-0.14,"Correct":-0.07},{"ch":"CP4","t":0.723,"Incorrect":1.18,"Correct":0.95},{"ch":"CP4","t":0.752,"Incorrect":2.09,"Correct":1.75},{"ch":"CP4","t":0.773,"Incorrect":1.86,"Correct":1.64},{"ch":"CP4","t":0.804,"Incorrect":2.32,"Correct":2.2},{"ch":"CP4","t":0.827,"Incorrect":1.41,"Correct":1.41},{"ch":"CP4","t":0.848,"Incorrect":-0.86,"Correct":-1.09},{"ch":"CP4","t":0.871,"Incorrect":-1.55,"Correct":-1.77},{"ch":"CP4","t":0.898,"Incorrect":-1.43,"Correct":-1.77},{"ch":"CP4","t":0.925,"Incorrect":-1.66,"Correct":-2.0},{"ch":"CP4","t":0.952,"Incorrect":-1.89,"Correct":-2.34},{"ch":"CP4","t":0.97,"Incorrect":-2.11,"Correct":-2.45},{"ch":"CP4","t":1.0,"Incorrect":-1.32,"Correct":-1.77},
{"ch":"P3","t":-0.098,"Incorrect":-0.68,"Correct":-0.57},{"ch":"P3","t":-0.077,"Incorrect":0.34,"Correct":0.45},{"ch":"P3","t":-0.06,"Incorrect":0.57,"Correct":0.5},{"ch":"P3","t":-0.04,"Incorrect":0.0,"Correct":-0.11},{"ch":"P3","t":-0.023,"Incorrect":-0.64,"Correct":-0.91},{"ch":"P3","t":-0.01,"Incorrect":0.23,"Correct":0.11},{"ch":"P3","t":0,"Incorrect":1.25,"Correct":1.48},{"ch":"P3","t":0.023,"Incorrect":1.36,"Correct":1.82},{"ch":"P3","t":0.048,"Incorrect":0.64,"Correct":1.32},{"ch":"P3","t":0.078,"Incorrect":0.0,"Correct":0.5},{"ch":"P3","t":0.098,"Incorrect":0.45,"Correct":1.14},{"ch":"P3","t":0.12,"Incorrect":1.25,"Correct":1.86},{"ch":"P3","t":0.145,"Incorrect":0.11,"Correct":0.57},{"ch":"P3","t":0.17,"Incorrect":-0.91,"Correct":-0.8},{"ch":"P3","t":0.19,"Incorrect":0.0,"Correct":0.5},{"ch":"P3","t":0.212,"Incorrect":1.59,"Correct":2.27},{"ch":"P3","t":0.232,"Incorrect":1.82,"Correct":2.61},{"ch":"P3","t":0.257,"Incorrect":1.77,"Correct":2.39},{"ch":"P3","t":0.273,"Incorrect":2.5,"Correct":2.73},{"ch":"P3","t":0.293,"Incorrect":3.52,"Correct":3.64},{"ch":"P3","t":0.315,"Incorrect":2.5,"Correct":2.73},{"ch":"P3","t":0.335,"Incorrect":1.36,"Correct":2.05},{"ch":"P3","t":0.353,"Incorrect":0.8,"Correct":0.95},{"ch":"P3","t":0.373,"Incorrect":1.02,"Correct":1.48},{"ch":"P3","t":0.398,"Incorrect":1.25,"Correct":1.77},{"ch":"P3","t":0.423,"Incorrect":0.57,"Correct":0.68},{"ch":"P3","t":0.448,"Incorrect":-0.34,"Correct":-0.23},{"ch":"P3","t":0.47,"Incorrect":0.11,"Correct":0.11},{"ch":"P3","t":0.485,"Incorrect":-0.57,"Correct":-0.68},{"ch":"P3","t":0.507,"Incorrect":-2.16,"Correct":-2.16},{"ch":"P3","t":0.528,"Incorrect":-0.91,"Correct":-1.02},{"ch":"P3","t":0.548,"Incorrect":0.57,"Correct":0.0},{"ch":"P3","t":0.573,"Incorrect":0.11,"Correct":-0.57},{"ch":"P3","t":0.598,"Incorrect":-0.27,"Correct":-0.68},{"ch":"P3","t":0.62,"Incorrect":-0.11,"Correct":-0.27},{"ch":"P3","t":0.652,"Incorrect":0.8,"Correct":0.34},{"ch":"P3","t":0.678,"Incorrect":0.23,"Correct":-0.05},{"ch":"P3","t":0.702,"Incorrect":-0.18,"Correct":-0.8},{"ch":"P3","t":0.728,"Incorrect":0.8,"Correct":0.5},{"ch":"P3","t":0.757,"Incorrect":1.02,"Correct":0.57},{"ch":"P3","t":0.782,"Incorrect":2.05,"Correct":1.36},{"ch":"P3","t":0.812,"Incorrect":2.73,"Correct":2.39},{"ch":"P3","t":0.835,"Incorrect":1.82,"Correct":1.36},{"ch":"P3","t":0.857,"Incorrect":0.45,"Correct":-0.23},{"ch":"P3","t":0.878,"Incorrect":-0.23,"Correct":-0.68},{"ch":"P3","t":0.907,"Incorrect":-0.5,"Correct":-0.95},{"ch":"P3","t":0.932,"Incorrect":-0.68,"Correct":-1.48},{"ch":"P3","t":0.957,"Incorrect":-0.8,"Correct":-1.59},{"ch":"P3","t":0.978,"Incorrect":-1.25,"Correct":-1.86},{"ch":"P3","t":1.0,"Incorrect":-0.27,"Correct":-0.91},
{"ch":"Pz","t":-0.098,"Incorrect":-0.95,"Correct":-0.91},{"ch":"Pz","t":-0.08,"Incorrect":0.0,"Correct":0.23},{"ch":"Pz","t":-0.063,"Incorrect":0.34,"Correct":0.8},{"ch":"Pz","t":-0.045,"Incorrect":0.0,"Correct":-0.11},{"ch":"Pz","t":-0.027,"Incorrect":-0.45,"Correct":-0.68},{"ch":"Pz","t":-0.013,"Incorrect":0.23,"Correct":0.34},{"ch":"Pz","t":0.009,"Incorrect":2.0,"Correct":2.39},{"ch":"Pz","t":0.036,"Incorrect":1.36,"Correct":1.93},{"ch":"Pz","t":0.059,"Incorrect":0.23,"Correct":0.68},{"ch":"Pz","t":0.077,"Incorrect":-0.11,"Correct":0.57},{"ch":"Pz","t":0.098,"Incorrect":0.34,"Correct":0.91},{"ch":"Pz","t":0.12,"Incorrect":0.8,"Correct":1.32},{"ch":"Pz","t":0.143,"Incorrect":0.11,"Correct":0.34},{"ch":"Pz","t":0.166,"Incorrect":0.0,"Correct":-0.11},{"ch":"Pz","t":0.188,"Incorrect":1.14,"Correct":1.36},{"ch":"Pz","t":0.215,"Incorrect":2.39,"Correct":3.3},{"ch":"Pz","t":0.233,"Incorrect":1.93,"Correct":2.39},{"ch":"Pz","t":0.25,"Incorrect":1.59,"Correct":1.82},{"ch":"Pz","t":0.268,"Incorrect":2.27,"Correct":2.5},{"ch":"Pz","t":0.29,"Incorrect":3.3,"Correct":3.41},{"ch":"Pz","t":0.313,"Incorrect":1.36,"Correct":1.36},{"ch":"Pz","t":0.34,"Incorrect":-0.34,"Correct":-0.41},{"ch":"Pz","t":0.363,"Incorrect":0.5,"Correct":0.68},{"ch":"Pz","t":0.385,"Incorrect":1.25,"Correct":1.55},{"ch":"Pz","t":0.411,"Incorrect":0.0,"Correct":0.23},{"ch":"Pz","t":0.435,"Incorrect":-1.02,"Correct":-1.14},{"ch":"Pz","t":0.456,"Incorrect":-0.41,"Correct":0.34},{"ch":"Pz","t":0.483,"Incorrect":-1.02,"Correct":-0.91},{"ch":"Pz","t":0.501,"Incorrect":-2.0,"Correct":-1.93},{"ch":"Pz","t":0.519,"Incorrect":-0.68,"Correct":-0.8},{"ch":"Pz","t":0.546,"Incorrect":0.8,"Correct":0.34},{"ch":"Pz","t":0.572,"Incorrect":0.34,"Correct":-0.11},{"ch":"Pz","t":0.599,"Incorrect":-0.34,"Correct":-0.91},{"ch":"Pz","t":0.626,"Incorrect":-1.02,"Correct":-1.36},{"ch":"Pz","t":0.649,"Incorrect":-0.34,"Correct":-0.57},{"ch":"Pz","t":0.671,"Incorrect":0.23,"Correct":-0.23},{"ch":"Pz","t":0.698,"Incorrect":0.41,"Correct":-0.11},{"ch":"Pz","t":0.721,"Incorrect":1.02,"Correct":0.57},{"ch":"Pz","t":0.742,"Incorrect":2.39,"Correct":1.48},{"ch":"Pz","t":0.76,"Incorrect":1.59,"Correct":0.8},{"ch":"Pz","t":0.782,"Incorrect":1.02,"Correct":0.57},{"ch":"Pz","t":0.8,"Incorrect":1.48,"Correct":1.14},{"ch":"Pz","t":0.818,"Incorrect":1.7,"Correct":1.32},{"ch":"Pz","t":0.835,"Incorrect":0.23,"Correct":0.0},{"ch":"Pz","t":0.853,"Incorrect":-1.48,"Correct":-2.39},{"ch":"Pz","t":0.877,"Incorrect":-1.93,"Correct":-2.61},{"ch":"Pz","t":0.903,"Incorrect":-1.77,"Correct":-2.55},{"ch":"Pz","t":0.93,"Incorrect":-1.93,"Correct":-2.84},{"ch":"Pz","t":0.957,"Incorrect":-2.27,"Correct":-3.18},{"ch":"Pz","t":0.975,"Incorrect":-2.61,"Correct":-3.52},{"ch":"Pz","t":0.993,"Incorrect":-1.48,"Correct":-2.61},{"ch":"Pz","t":1.0,"Incorrect":-1.14,"Correct":-1.82},
{"ch":"P4","t":-0.095,"Incorrect":-0.05,"Correct":0.0},{"ch":"P4","t":-0.077,"Incorrect":0.34,"Correct":0.57},{"ch":"P4","t":-0.059,"Incorrect":0.8,"Correct":1.02},{"ch":"P4","t":-0.036,"Incorrect":-0.23,"Correct":-0.23},{"ch":"P4","t":-0.018,"Incorrect":-1.25,"Correct":-1.14},{"ch":"P4","t":0,"Incorrect":0.57,"Correct":0.57},{"ch":"P4","t":0.018,"Incorrect":1.64,"Correct":1.48},{"ch":"P4","t":0.041,"Incorrect":1.36,"Correct":1.36},{"ch":"P4","t":0.072,"Incorrect":0.11,"Correct":0.57},{"ch":"P4","t":0.095,"Incorrect":1.14,"Correct":1.36},{"ch":"P4","t":0.12,"Incorrect":3.41,"Correct":3.07},{"ch":"P4","t":0.143,"Incorrect":1.14,"Correct":1.14},{"ch":"P4","t":0.17,"Incorrect":-1.25,"Correct":-1.14},{"ch":"P4","t":0.191,"Incorrect":1.14,"Correct":0.91},{"ch":"P4","t":0.215,"Incorrect":2.61,"Correct":2.05},{"ch":"P4","t":0.238,"Incorrect":2.27,"Correct":1.93},{"ch":"P4","t":0.259,"Incorrect":3.3,"Correct":3.64},{"ch":"P4","t":0.295,"Incorrect":4.43,"Correct":4.77},{"ch":"P4","t":0.322,"Incorrect":2.73,"Correct":2.95},{"ch":"P4","t":0.345,"Incorrect":1.25,"Correct":0.91},{"ch":"P4","t":0.367,"Incorrect":1.82,"Correct":2.16},{"ch":"P4","t":0.394,"Incorrect":1.36,"Correct":1.14},{"ch":"P4","t":0.417,"Incorrect":0.45,"Correct":0.11},{"ch":"P4","t":0.438,"Incorrect":-0.23,"Correct":-0.57},{"ch":"P4","t":0.465,"Incorrect":0.11,"Correct":0.34},{"ch":"P4","t":0.488,"Incorrect":-1.02,"Correct":-0.91},{"ch":"P4","t":0.51,"Incorrect":-2.5,"Correct":-2.05},{"ch":"P4","t":0.531,"Incorrect":-0.91,"Correct":-0.8},{"ch":"P4","t":0.555,"Incorrect":0.5,"Correct":0.8},{"ch":"P4","t":0.578,"Incorrect":0.11,"Correct":0.34},{"ch":"P4","t":0.599,"Incorrect":-0.5,"Correct":-0.8},{"ch":"P4","t":0.626,"Incorrect":0.45,"Correct":0.23},{"ch":"P4","t":0.649,"Incorrect":1.7,"Correct":1.36},{"ch":"P4","t":0.674,"Incorrect":0.45,"Correct":0.34},{"ch":"P4","t":0.703,"Incorrect":-1.02,"Correct":-1.36},{"ch":"P4","t":0.728,"Incorrect":0.0,"Correct":-0.11},{"ch":"P4","t":0.757,"Incorrect":2.05,"Correct":1.7},{"ch":"P4","t":0.778,"Incorrect":1.36,"Correct":1.25},{"ch":"P4","t":0.8,"Incorrect":1.59,"Correct":1.25},{"ch":"P4","t":0.823,"Incorrect":2.61,"Correct":2.39},{"ch":"P4","t":0.846,"Incorrect":1.36,"Correct":1.25},{"ch":"P4","t":0.868,"Incorrect":-0.91,"Correct":-1.36},{"ch":"P4","t":0.894,"Incorrect":-1.02,"Correct":-1.59},{"ch":"P4","t":0.921,"Incorrect":-1.25,"Correct":-1.82},{"ch":"P4","t":0.948,"Incorrect":-1.59,"Correct":-2.16},{"ch":"P4","t":0.975,"Incorrect":-2.0,"Correct":-2.77},{"ch":"P4","t":1.0,"Incorrect":-0.91,"Correct":-1.77}
]
},
"vconcat": [
{"hconcat": [
{"width":307,"height":161,"layer":[
{"data":{"name":"one"},"mark":{"type":"rule","color":"#6e6e6e","strokeWidth":1.3,"clip":true},"encoding":{"x":{"datum":-0.1},"x2":{"datum":1},"y":{"datum":0}}},
{"data":{"name":"one"},"mark":{"type":"rule","color":"#6e6e6e","strokeWidth":1.3},"encoding":{"x":{"datum":0},"y":{"datum":-5},"y2":{"datum":5}}},
{"data":{"name":"caps"},"mark":{"type":"tick","orient":"horizontal","color":"#6e6e6e","size":6,"thickness":1.3,"opacity":1},"encoding":{"x":{"datum":0},"y":{"field":"uv","type":"quantitative"}}},
{"data":{"name":"xticks"},"mark":{"type":"tick","orient":"vertical","color":"#6e6e6e","size":6,"thickness":1.3,"opacity":1},"encoding":{"x":{"field":"t","type":"quantitative"},"y":{"datum":0}}},
{"data":{"name":"eeg"},"transform":[{"filter":{"field":"ch","equal":"F3"}},{"fold":["Correct","Incorrect"],"as":["cond","uv"]}],"mark":{"type":"line","interpolate":"monotone","clip":true},"encoding":{"x":{"field":"t","type":"quantitative","scale":{"domain":[-0.535,1],"nice":false,"zero":false}},"y":{"field":"uv","type":"quantitative","scale":{"domain":[-5.544,5.408],"nice":false,"zero":false,"reverse":true}},"color":{"field":"cond","type":"nominal","title":"Legend:","scale":{"domain":["Incorrect","Correct"],"range":["#303030","#8c8c8c"]},"legend":{"orient":"none","legendX":561,"legendY":847}},"strokeDash":{"field":"cond","type":"nominal","title":"Legend:","scale":{"domain":["Incorrect","Correct"],"range":[[1,0],[1.6,1.4]]}},"strokeWidth":{"field":"cond","type":"nominal","title":"Legend:","scale":{"domain":["Incorrect","Correct"],"range":[1.7,1.1]}}}},
{"data":{"values":[{"ch":"F3"}]},"mark":{"type":"text","align":"right","baseline":"middle","font":"Liberation Mono","fontSize":18,"color":"#555"},"encoding":{"x":{"datum":-0.085},"y":{"datum":-3.5},"text":{"field":"ch","type":"nominal"}}}
]},
{"width":252,"height":161,"layer":[
{"data":{"name":"one"},"mark":{"type":"rule","color":"#6e6e6e","strokeWidth":1.3,"clip":true},"encoding":{"x":{"datum":-0.1},"x2":{"datum":1},"y":{"datum":0}}},
{"data":{"name":"one"},"mark":{"type":"rule","color":"#6e6e6e","strokeWidth":1.3},"encoding":{"x":{"datum":0},"y":{"datum":-5},"y2":{"datum":5}}},
{"data":{"name":"caps"},"mark":{"type":"tick","orient":"horizontal","color":"#6e6e6e","size":6,"thickness":1.3,"opacity":1},"encoding":{"x":{"datum":0},"y":{"field":"uv","type":"quantitative"}}},
{"data":{"name":"xticks"},"mark":{"type":"tick","orient":"vertical","color":"#6e6e6e","size":6,"thickness":1.3,"opacity":1},"encoding":{"x":{"field":"t","type":"quantitative"},"y":{"datum":0}}},
{"data":{"name":"eeg"},"transform":[{"filter":{"field":"ch","equal":"Fz"}},{"fold":["Correct","Incorrect"],"as":["cond","uv"]}],"mark":{"type":"line","interpolate":"monotone","clip":true},"encoding":{"x":{"field":"t","type":"quantitative","scale":{"domain":[-0.26,1],"nice":false,"zero":false}},"y":{"field":"uv","type":"quantitative","scale":{"domain":[-5.544,5.408],"nice":false,"zero":false,"reverse":true}},"color":{"field":"cond","type":"nominal","title":"Legend:","scale":{"domain":["Incorrect","Correct"],"range":["#303030","#8c8c8c"]},"legend":{"orient":"none","legendX":561,"legendY":847}},"strokeDash":{"field":"cond","type":"nominal","title":"Legend:","scale":{"domain":["Incorrect","Correct"],"range":[[1,0],[1.6,1.4]]}},"strokeWidth":{"field":"cond","type":"nominal","title":"Legend:","scale":{"domain":["Incorrect","Correct"],"range":[1.7,1.1]}}}},
{"data":{"values":[{"ch":"Fz"}]},"mark":{"type":"text","align":"right","baseline":"middle","font":"Liberation Mono","fontSize":18,"color":"#555"},"encoding":{"x":{"datum":-0.08},"y":{"datum":-3.5},"text":{"field":"ch","type":"nominal"}}}
]},
{"width":252,"height":161,"layer":[
{"data":{"name":"one"},"mark":{"type":"rule","color":"#6e6e6e","strokeWidth":1.3,"clip":true},"encoding":{"x":{"datum":-0.1},"x2":{"datum":1},"y":{"datum":0}}},
{"data":{"name":"one"},"mark":{"type":"rule","color":"#6e6e6e","strokeWidth":1.3},"encoding":{"x":{"datum":0},"y":{"datum":-5},"y2":{"datum":5}}},
{"data":{"name":"caps"},"mark":{"type":"tick","orient":"horizontal","color":"#6e6e6e","size":6,"thickness":1.3,"opacity":1},"encoding":{"x":{"datum":0},"y":{"field":"uv","type":"quantitative"}}},
{"data":{"name":"xticks"},"mark":{"type":"tick","orient":"vertical","color":"#6e6e6e","size":6,"thickness":1.3,"opacity":1},"encoding":{"x":{"field":"t","type":"quantitative"},"y":{"datum":0}}},
{"data":{"name":"eeg"},"transform":[{"filter":{"field":"ch","equal":"F4"}},{"fold":["Correct","Incorrect"],"as":["cond","uv"]}],"mark":{"type":"line","interpolate":"monotone","clip":true},"encoding":{"x":{"field":"t","type":"quantitative","scale":{"domain":[-0.26,1],"nice":false,"zero":false}},"y":{"field":"uv","type":"quantitative","scale":{"domain":[-5.544,5.408],"nice":false,"zero":false,"reverse":true}},"color":{"field":"cond","type":"nominal","title":"Legend:","scale":{"domain":["Incorrect","Correct"],"range":["#303030","#8c8c8c"]},"legend":{"orient":"none","legendX":561,"legendY":847}},"strokeDash":{"field":"cond","type":"nominal","title":"Legend:","scale":{"domain":["Incorrect","Correct"],"range":[[1,0],[1.6,1.4]]}},"strokeWidth":{"field":"cond","type":"nominal","title":"Legend:","scale":{"domain":["Incorrect","Correct"],"range":[1.7,1.1]}}}},
{"data":{"values":[{"ch":"F4"}]},"mark":{"type":"text","align":"right","baseline":"middle","font":"Liberation Mono","fontSize":18,"color":"#555"},"encoding":{"x":{"datum":-0.085},"y":{"datum":-3.5},"text":{"field":"ch","type":"nominal"}}}
]}
], "spacing": 0, "bounds": "flush"},
{"hconcat": [
{"width":266,"height":156,"layer":[
{"data":{"name":"one"},"mark":{"type":"rule","color":"#6e6e6e","strokeWidth":1.3,"clip":true},"encoding":{"x":{"datum":-0.1},"x2":{"datum":1},"y":{"datum":0}}},
{"data":{"name":"one"},"mark":{"type":"rule","color":"#6e6e6e","strokeWidth":1.3},"encoding":{"x":{"datum":0},"y":{"datum":-5},"y2":{"datum":5}}},
{"data":{"name":"caps"},"mark":{"type":"tick","orient":"horizontal","color":"#6e6e6e","size":6,"thickness":1.3,"opacity":1},"encoding":{"x":{"datum":0},"y":{"field":"uv","type":"quantitative"}}},
{"data":{"name":"xticks"},"mark":{"type":"tick","orient":"vertical","color":"#6e6e6e","size":6,"thickness":1.3,"opacity":1},"encoding":{"x":{"field":"t","type":"quantitative"},"y":{"datum":0}}},
{"data":{"name":"eeg"},"transform":[{"filter":{"field":"ch","equal":"FC3"}},{"fold":["Correct","Incorrect"],"as":["cond","uv"]}],"mark":{"type":"line","interpolate":"monotone","clip":true},"encoding":{"x":{"field":"t","type":"quantitative","scale":{"domain":[-0.33,1],"nice":false,"zero":false}},"y":{"field":"uv","type":"quantitative","scale":{"domain":[-5.286,5.327],"nice":false,"zero":false,"reverse":true}},"color":{"field":"cond","type":"nominal","title":"Legend:","scale":{"domain":["Incorrect","Correct"],"range":["#303030","#8c8c8c"]},"legend":{"orient":"none","legendX":561,"legendY":847}},"strokeDash":{"field":"cond","type":"nominal","title":"Legend:","scale":{"domain":["Incorrect","Correct"],"range":[[1,0],[1.6,1.4]]}},"strokeWidth":{"field":"cond","type":"nominal","title":"Legend:","scale":{"domain":["Incorrect","Correct"],"range":[1.7,1.1]}}}},
{"data":{"values":[{"ch":"FC3"}]},"mark":{"type":"text","align":"right","baseline":"middle","font":"Liberation Mono","fontSize":18,"color":"#555"},"encoding":{"x":{"datum":-0.137},"y":{"datum":-3.5},"text":{"field":"ch","type":"nominal"}}}
]},
{"width":293,"height":156,"layer":[
{"data":{"name":"one"},"mark":{"type":"rule","color":"#6e6e6e","strokeWidth":1.3,"clip":true},"encoding":{"x":{"datum":-0.1},"x2":{"datum":1},"y":{"datum":0}}},
{"data":{"name":"one"},"mark":{"type":"rule","color":"#6e6e6e","strokeWidth":1.3},"encoding":{"x":{"datum":0},"y":{"datum":-5},"y2":{"datum":5}}},
{"data":{"name":"caps"},"mark":{"type":"tick","orient":"horizontal","color":"#6e6e6e","size":6,"thickness":1.3,"opacity":1},"encoding":{"x":{"datum":0},"y":{"field":"uv","type":"quantitative"}}},
{"data":{"name":"xticks"},"mark":{"type":"tick","orient":"vertical","color":"#6e6e6e","size":6,"thickness":1.3,"opacity":1},"encoding":{"x":{"field":"t","type":"quantitative"},"y":{"datum":0}}},
{"data":{"name":"eeg"},"transform":[{"filter":{"field":"ch","equal":"FCz"}},{"fold":["Correct","Incorrect"],"as":["cond","uv"]}],"mark":{"type":"line","interpolate":"monotone","clip":true},"encoding":{"x":{"field":"t","type":"quantitative","scale":{"domain":[-0.465,1],"nice":false,"zero":false}},"y":{"field":"uv","type":"quantitative","scale":{"domain":[-5.286,5.327],"nice":false,"zero":false,"reverse":true}},"color":{"field":"cond","type":"nominal","title":"Legend:","scale":{"domain":["Incorrect","Correct"],"range":["#303030","#8c8c8c"]},"legend":{"orient":"none","legendX":561,"legendY":847}},"strokeDash":{"field":"cond","type":"nominal","title":"Legend:","scale":{"domain":["Incorrect","Correct"],"range":[[1,0],[1.6,1.4]]}},"strokeWidth":{"field":"cond","type":"nominal","title":"Legend:","scale":{"domain":["Incorrect","Correct"],"range":[1.7,1.1]}}}},
{"data":{"values":[{"ch":"FCz"}]},"mark":{"type":"text","align":"right","baseline":"middle","font":"Liberation Mono","fontSize":18,"color":"#555"},"encoding":{"x":{"datum":-0.138},"y":{"datum":-3.5},"text":{"field":"ch","type":"nominal"}}}
]},
{"width":294,"height":156,"layer":[
{"data":{"name":"one"},"mark":{"type":"rule","color":"#6e6e6e","strokeWidth":1.3,"clip":true},"encoding":{"x":{"datum":-0.1},"x2":{"datum":1},"y":{"datum":0}}},
{"data":{"name":"one"},"mark":{"type":"rule","color":"#6e6e6e","strokeWidth":1.3},"encoding":{"x":{"datum":0},"y":{"datum":-5},"y2":{"datum":5}}},
{"data":{"name":"caps"},"mark":{"type":"tick","orient":"horizontal","color":"#6e6e6e","size":6,"thickness":1.3,"opacity":1},"encoding":{"x":{"datum":0},"y":{"field":"uv","type":"quantitative"}}},
{"data":{"name":"xticks"},"mark":{"type":"tick","orient":"vertical","color":"#6e6e6e","size":6,"thickness":1.3,"opacity":1},"encoding":{"x":{"field":"t","type":"quantitative"},"y":{"datum":0}}},
{"data":{"name":"eeg"},"transform":[{"filter":{"field":"ch","equal":"FC4"}},{"fold":["Correct","Incorrect"],"as":["cond","uv"]}],"mark":{"type":"line","interpolate":"monotone","clip":true},"encoding":{"x":{"field":"t","type":"quantitative","scale":{"domain":[-0.47,1],"nice":false,"zero":false}},"y":{"field":"uv","type":"quantitative","scale":{"domain":[-5.286,5.327],"nice":false,"zero":false,"reverse":true}},"color":{"field":"cond","type":"nominal","title":"Legend:","scale":{"domain":["Incorrect","Correct"],"range":["#303030","#8c8c8c"]},"legend":{"orient":"none","legendX":561,"legendY":847}},"strokeDash":{"field":"cond","type":"nominal","title":"Legend:","scale":{"domain":["Incorrect","Correct"],"range":[[1,0],[1.6,1.4]]}},"strokeWidth":{"field":"cond","type":"nominal","title":"Legend:","scale":{"domain":["Incorrect","Correct"],"range":[1.7,1.1]}}}},
{"data":{"values":[{"ch":"FC4"}]},"mark":{"type":"text","align":"right","baseline":"middle","font":"Liberation Mono","fontSize":18,"color":"#555"},"encoding":{"x":{"datum":-0.149},"y":{"datum":-3.5},"text":{"field":"ch","type":"nominal"}}}
]}
], "spacing": 0, "bounds": "flush"},
{"hconcat": [
{"width":255,"height":154,"layer":[
{"data":{"name":"one"},"mark":{"type":"rule","color":"#6e6e6e","strokeWidth":1.3,"clip":true},"encoding":{"x":{"datum":-0.1},"x2":{"datum":1},"y":{"datum":0}}},
{"data":{"name":"one"},"mark":{"type":"rule","color":"#6e6e6e","strokeWidth":1.3},"encoding":{"x":{"datum":0},"y":{"datum":-5},"y2":{"datum":5}}},
{"data":{"name":"caps"},"mark":{"type":"tick","orient":"horizontal","color":"#6e6e6e","size":6,"thickness":1.3,"opacity":1},"encoding":{"x":{"datum":0},"y":{"field":"uv","type":"quantitative"}}},
{"data":{"name":"xticks"},"mark":{"type":"tick","orient":"vertical","color":"#6e6e6e","size":6,"thickness":1.3,"opacity":1},"encoding":{"x":{"field":"t","type":"quantitative"},"y":{"datum":0}}},
{"data":{"name":"eeg"},"transform":[{"filter":{"field":"ch","equal":"C3"}},{"fold":["Correct","Incorrect"],"as":["cond","uv"]}],"mark":{"type":"line","interpolate":"monotone","clip":true},"encoding":{"x":{"field":"t","type":"quantitative","scale":{"domain":[-0.275,1],"nice":false,"zero":false}},"y":{"field":"uv","type":"quantitative","scale":{"domain":[-5.354,5.122],"nice":false,"zero":false,"reverse":true}},"color":{"field":"cond","type":"nominal","title":"Legend:","scale":{"domain":["Incorrect","Correct"],"range":["#303030","#8c8c8c"]},"legend":{"orient":"none","legendX":561,"legendY":847}},"strokeDash":{"field":"cond","type":"nominal","title":"Legend:","scale":{"domain":["Incorrect","Correct"],"range":[[1,0],[1.6,1.4]]}},"strokeWidth":{"field":"cond","type":"nominal","title":"Legend:","scale":{"domain":["Incorrect","Correct"],"range":[1.7,1.1]}}}},
{"data":{"values":[{"ch":"C3"}]},"mark":{"type":"text","align":"right","baseline":"middle","font":"Liberation Mono","fontSize":18,"color":"#555"},"encoding":{"x":{"datum":-0.108},"y":{"datum":-3.5},"text":{"field":"ch","type":"nominal"}}}
]},
{"width":304,"height":154,"layer":[
{"data":{"name":"one"},"mark":{"type":"rule","color":"#6e6e6e","strokeWidth":1.3,"clip":true},"encoding":{"x":{"datum":-0.1},"x2":{"datum":1},"y":{"datum":0}}},
{"data":{"name":"one"},"mark":{"type":"rule","color":"#6e6e6e","strokeWidth":1.3},"encoding":{"x":{"datum":0},"y":{"datum":-5},"y2":{"datum":5}}},
{"data":{"name":"caps"},"mark":{"type":"tick","orient":"horizontal","color":"#6e6e6e","size":6,"thickness":1.3,"opacity":1},"encoding":{"x":{"datum":0},"y":{"field":"uv","type":"quantitative"}}},
{"data":{"name":"xticks"},"mark":{"type":"tick","orient":"vertical","color":"#6e6e6e","size":6,"thickness":1.3,"opacity":1},"encoding":{"x":{"field":"t","type":"quantitative"},"y":{"datum":0}}},
{"data":{"name":"eeg"},"transform":[{"filter":{"field":"ch","equal":"Cz"}},{"fold":["Correct","Incorrect"],"as":["cond","uv"]}],"mark":{"type":"line","interpolate":"monotone","clip":true},"encoding":{"x":{"field":"t","type":"quantitative","scale":{"domain":[-0.52,1],"nice":false,"zero":false}},"y":{"field":"uv","type":"quantitative","scale":{"domain":[-5.354,5.122],"nice":false,"zero":false,"reverse":true}},"color":{"field":"cond","type":"nominal","title":"Legend:","scale":{"domain":["Incorrect","Correct"],"range":["#303030","#8c8c8c"]},"legend":{"orient":"none","legendX":561,"legendY":847}},"strokeDash":{"field":"cond","type":"nominal","title":"Legend:","scale":{"domain":["Incorrect","Correct"],"range":[[1,0],[1.6,1.4]]}},"strokeWidth":{"field":"cond","type":"nominal","title":"Legend:","scale":{"domain":["Incorrect","Correct"],"range":[1.7,1.1]}}}},
{"data":{"values":[{"ch":"Cz"}]},"mark":{"type":"text","align":"right","baseline":"middle","font":"Liberation Mono","fontSize":18,"color":"#555"},"encoding":{"x":{"datum":-0.084},"y":{"datum":-3.5},"text":{"field":"ch","type":"nominal"}}}
]},
{"width":302,"height":154,"layer":[
{"data":{"name":"one"},"mark":{"type":"rule","color":"#6e6e6e","strokeWidth":1.3,"clip":true},"encoding":{"x":{"datum":-0.1},"x2":{"datum":1},"y":{"datum":0}}},
{"data":{"name":"one"},"mark":{"type":"rule","color":"#6e6e6e","strokeWidth":1.3},"encoding":{"x":{"datum":0},"y":{"datum":-5},"y2":{"datum":5}}},
{"data":{"name":"caps"},"mark":{"type":"tick","orient":"horizontal","color":"#6e6e6e","size":6,"thickness":1.3,"opacity":1},"encoding":{"x":{"datum":0},"y":{"field":"uv","type":"quantitative"}}},
{"data":{"name":"xticks"},"mark":{"type":"tick","orient":"vertical","color":"#6e6e6e","size":6,"thickness":1.3,"opacity":1},"encoding":{"x":{"field":"t","type":"quantitative"},"y":{"datum":0}}},
{"data":{"name":"eeg"},"transform":[{"filter":{"field":"ch","equal":"C4"}},{"fold":["Correct","Incorrect"],"as":["cond","uv"]}],"mark":{"type":"line","interpolate":"monotone","clip":true},"encoding":{"x":{"field":"t","type":"quantitative","scale":{"domain":[-0.525,0.985],"nice":false,"zero":false}},"y":{"field":"uv","type":"quantitative","scale":{"domain":[-5.354,5.122],"nice":false,"zero":false,"reverse":true}},"color":{"field":"cond","type":"nominal","title":"Legend:","scale":{"domain":["Incorrect","Correct"],"range":["#303030","#8c8c8c"]},"legend":{"orient":"none","legendX":561,"legendY":847}},"strokeDash":{"field":"cond","type":"nominal","title":"Legend:","scale":{"domain":["Incorrect","Correct"],"range":[[1,0],[1.6,1.4]]}},"strokeWidth":{"field":"cond","type":"nominal","title":"Legend:","scale":{"domain":["Incorrect","Correct"],"range":[1.7,1.1]}}}},
{"data":{"values":[{"ch":"C4"}]},"mark":{"type":"text","align":"right","baseline":"middle","font":"Liberation Mono","fontSize":18,"color":"#555"},"encoding":{"x":{"datum":-0.108},"y":{"datum":-3.5},"text":{"field":"ch","type":"nominal"}}}
]}
], "spacing": 0, "bounds": "flush"},
{"hconcat": [
{"width":266,"height":157,"layer":[
{"data":{"name":"one"},"mark":{"type":"rule","color":"#6e6e6e","strokeWidth":1.3,"clip":true},"encoding":{"x":{"datum":-0.1},"x2":{"datum":1},"y":{"datum":0}}},
{"data":{"name":"one"},"mark":{"type":"rule","color":"#6e6e6e","strokeWidth":1.3},"encoding":{"x":{"datum":0},"y":{"datum":-5},"y2":{"datum":5}}},
{"data":{"name":"caps"},"mark":{"type":"tick","orient":"horizontal","color":"#6e6e6e","size":6,"thickness":1.3,"opacity":1},"encoding":{"x":{"datum":0},"y":{"field":"uv","type":"quantitative"}}},
{"data":{"name":"xticks"},"mark":{"type":"tick","orient":"vertical","color":"#6e6e6e","size":6,"thickness":1.3,"opacity":1},"encoding":{"x":{"field":"t","type":"quantitative"},"y":{"datum":0}}},
{"data":{"name":"eeg"},"transform":[{"filter":{"field":"ch","equal":"CP3"}},{"fold":["Correct","Incorrect"],"as":["cond","uv"]}],"mark":{"type":"line","interpolate":"monotone","clip":true},"encoding":{"x":{"field":"t","type":"quantitative","scale":{"domain":[-0.33,1],"nice":false,"zero":false}},"y":{"field":"uv","type":"quantitative","scale":{"domain":[-5.136,5.544],"nice":false,"zero":false,"reverse":true}},"color":{"field":"cond","type":"nominal","title":"Legend:","scale":{"domain":["Incorrect","Correct"],"range":["#303030","#8c8c8c"]},"legend":{"orient":"none","legendX":561,"legendY":847}},"strokeDash":{"field":"cond","type":"nominal","title":"Legend:","scale":{"domain":["Incorrect","Correct"],"range":[[1,0],[1.6,1.4]]}},"strokeWidth":{"field":"cond","type":"nominal","title":"Legend:","scale":{"domain":["Incorrect","Correct"],"range":[1.7,1.1]}}}},
{"data":{"values":[{"ch":"CP3"}]},"mark":{"type":"text","align":"right","baseline":"middle","font":"Liberation Mono","fontSize":18,"color":"#555"},"encoding":{"x":{"datum":-0.137},"y":{"datum":-3.5},"text":{"field":"ch","type":"nominal"}}}
]},
{"width":293,"height":157,"layer":[
{"data":{"name":"one"},"mark":{"type":"rule","color":"#6e6e6e","strokeWidth":1.3,"clip":true},"encoding":{"x":{"datum":-0.1},"x2":{"datum":1},"y":{"datum":0}}},
{"data":{"name":"one"},"mark":{"type":"rule","color":"#6e6e6e","strokeWidth":1.3},"encoding":{"x":{"datum":0},"y":{"datum":-5},"y2":{"datum":5}}},
{"data":{"name":"caps"},"mark":{"type":"tick","orient":"horizontal","color":"#6e6e6e","size":6,"thickness":1.3,"opacity":1},"encoding":{"x":{"datum":0},"y":{"field":"uv","type":"quantitative"}}},
{"data":{"name":"xticks"},"mark":{"type":"tick","orient":"vertical","color":"#6e6e6e","size":6,"thickness":1.3,"opacity":1},"encoding":{"x":{"field":"t","type":"quantitative"},"y":{"datum":0}}},
{"data":{"name":"eeg"},"transform":[{"filter":{"field":"ch","equal":"CPz"}},{"fold":["Correct","Incorrect"],"as":["cond","uv"]}],"mark":{"type":"line","interpolate":"monotone","clip":true},"encoding":{"x":{"field":"t","type":"quantitative","scale":{"domain":[-0.465,1],"nice":false,"zero":false}},"y":{"field":"uv","type":"quantitative","scale":{"domain":[-5.136,5.544],"nice":false,"zero":false,"reverse":true}},"color":{"field":"cond","type":"nominal","title":"Legend:","scale":{"domain":["Incorrect","Correct"],"range":["#303030","#8c8c8c"]},"legend":{"orient":"none","legendX":561,"legendY":847}},"strokeDash":{"field":"cond","type":"nominal","title":"Legend:","scale":{"domain":["Incorrect","Correct"],"range":[[1,0],[1.6,1.4]]}},"strokeWidth":{"field":"cond","type":"nominal","title":"Legend:","scale":{"domain":["Incorrect","Correct"],"range":[1.7,1.1]}}}},
{"data":{"values":[{"ch":"CPz"}]},"mark":{"type":"text","align":"right","baseline":"middle","font":"Liberation Mono","fontSize":18,"color":"#555"},"encoding":{"x":{"datum":-0.137},"y":{"datum":-3.5},"text":{"field":"ch","type":"nominal"}}}
]},
{"width":294,"height":157,"layer":[
{"data":{"name":"one"},"mark":{"type":"rule","color":"#6e6e6e","strokeWidth":1.3,"clip":true},"encoding":{"x":{"datum":-0.1},"x2":{"datum":1},"y":{"datum":0}}},
{"data":{"name":"one"},"mark":{"type":"rule","color":"#6e6e6e","strokeWidth":1.3},"encoding":{"x":{"datum":0},"y":{"datum":-5},"y2":{"datum":5}}},
{"data":{"name":"caps"},"mark":{"type":"tick","orient":"horizontal","color":"#6e6e6e","size":6,"thickness":1.3,"opacity":1},"encoding":{"x":{"datum":0},"y":{"field":"uv","type":"quantitative"}}},
{"data":{"name":"xticks"},"mark":{"type":"tick","orient":"vertical","color":"#6e6e6e","size":6,"thickness":1.3,"opacity":1},"encoding":{"x":{"field":"t","type":"quantitative"},"y":{"datum":0}}},
{"data":{"name":"eeg"},"transform":[{"filter":{"field":"ch","equal":"CP4"}},{"fold":["Correct","Incorrect"],"as":["cond","uv"]}],"mark":{"type":"line","interpolate":"monotone","clip":true},"encoding":{"x":{"field":"t","type":"quantitative","scale":{"domain":[-0.47,1],"nice":false,"zero":false}},"y":{"field":"uv","type":"quantitative","scale":{"domain":[-5.136,5.544],"nice":false,"zero":false,"reverse":true}},"color":{"field":"cond","type":"nominal","title":"Legend:","scale":{"domain":["Incorrect","Correct"],"range":["#303030","#8c8c8c"]},"legend":{"orient":"none","legendX":561,"legendY":847}},"strokeDash":{"field":"cond","type":"nominal","title":"Legend:","scale":{"domain":["Incorrect","Correct"],"range":[[1,0],[1.6,1.4]]}},"strokeWidth":{"field":"cond","type":"nominal","title":"Legend:","scale":{"domain":["Incorrect","Correct"],"range":[1.7,1.1]}}}},
{"data":{"values":[{"ch":"CP4"}]},"mark":{"type":"text","align":"right","baseline":"middle","font":"Liberation Mono","fontSize":18,"color":"#555"},"encoding":{"x":{"datum":-0.149},"y":{"datum":-3.5},"text":{"field":"ch","type":"nominal"}}}
]}
], "spacing": 0, "bounds": "flush"},
{"hconcat": [
{"width":307,"height":172,"layer":[
{"data":{"name":"one"},"mark":{"type":"rule","color":"#6e6e6e","strokeWidth":1.3,"clip":true},"encoding":{"x":{"datum":-0.1},"x2":{"datum":1},"y":{"datum":0}}},
{"data":{"name":"one"},"mark":{"type":"rule","color":"#6e6e6e","strokeWidth":1.3},"encoding":{"x":{"datum":0},"y":{"datum":-5},"y2":{"datum":5}}},
{"data":{"name":"caps"},"mark":{"type":"tick","orient":"horizontal","color":"#6e6e6e","size":6,"thickness":1.3,"opacity":1},"encoding":{"x":{"datum":0},"y":{"field":"uv","type":"quantitative"}}},
{"data":{"name":"xticks"},"mark":{"type":"tick","orient":"vertical","color":"#6e6e6e","size":6,"thickness":1.3,"opacity":1},"encoding":{"x":{"field":"t","type":"quantitative"},"y":{"datum":0}}},
{"data":{"name":"eeg"},"transform":[{"filter":{"field":"ch","equal":"P3"}},{"fold":["Correct","Incorrect"],"as":["cond","uv"]}],"mark":{"type":"line","interpolate":"monotone","clip":true},"encoding":{"x":{"field":"t","type":"quantitative","scale":{"domain":[-0.535,1],"nice":false,"zero":false}},"y":{"field":"uv","type":"quantitative","scale":{"domain":[-5.578,6.122],"nice":false,"zero":false,"reverse":true}},"color":{"field":"cond","type":"nominal","title":"Legend:","scale":{"domain":["Incorrect","Correct"],"range":["#303030","#8c8c8c"]},"legend":{"orient":"none","legendX":561,"legendY":847}},"strokeDash":{"field":"cond","type":"nominal","title":"Legend:","scale":{"domain":["Incorrect","Correct"],"range":[[1,0],[1.6,1.4]]}},"strokeWidth":{"field":"cond","type":"nominal","title":"Legend:","scale":{"domain":["Incorrect","Correct"],"range":[1.7,1.1]}}}},
{"data":{"values":[{"ch":"P3"}]},"mark":{"type":"text","align":"right","baseline":"middle","font":"Liberation Mono","fontSize":18,"color":"#555"},"encoding":{"x":{"datum":-0.085},"y":{"datum":-3.5},"text":{"field":"ch","type":"nominal"}}}
]},
{"width":252,"height":172,"layer":[
{"data":{"name":"one"},"mark":{"type":"rule","color":"#6e6e6e","strokeWidth":1.3,"clip":true},"encoding":{"x":{"datum":-0.1},"x2":{"datum":1},"y":{"datum":0}}},
{"data":{"name":"one"},"mark":{"type":"rule","color":"#6e6e6e","strokeWidth":1.3},"encoding":{"x":{"datum":0},"y":{"datum":-5},"y2":{"datum":5}}},
{"data":{"name":"caps"},"mark":{"type":"tick","orient":"horizontal","color":"#6e6e6e","size":6,"thickness":1.3,"opacity":1},"encoding":{"x":{"datum":0},"y":{"field":"uv","type":"quantitative"}}},
{"data":{"name":"xticks"},"mark":{"type":"tick","orient":"vertical","color":"#6e6e6e","size":6,"thickness":1.3,"opacity":1},"encoding":{"x":{"field":"t","type":"quantitative"},"y":{"datum":0}}},
{"data":{"name":"eeg"},"transform":[{"filter":{"field":"ch","equal":"Pz"}},{"fold":["Correct","Incorrect"],"as":["cond","uv"]}],"mark":{"type":"line","interpolate":"monotone","clip":true},"encoding":{"x":{"field":"t","type":"quantitative","scale":{"domain":[-0.26,1],"nice":false,"zero":false}},"y":{"field":"uv","type":"quantitative","scale":{"domain":[-5.578,6.122],"nice":false,"zero":false,"reverse":true}},"color":{"field":"cond","type":"nominal","title":"Legend:","scale":{"domain":["Incorrect","Correct"],"range":["#303030","#8c8c8c"]},"legend":{"orient":"none","legendX":561,"legendY":847}},"strokeDash":{"field":"cond","type":"nominal","title":"Legend:","scale":{"domain":["Incorrect","Correct"],"range":[[1,0],[1.6,1.4]]}},"strokeWidth":{"field":"cond","type":"nominal","title":"Legend:","scale":{"domain":["Incorrect","Correct"],"range":[1.7,1.1]}}}},
{"data":{"values":[{"ch":"Pz"}]},"mark":{"type":"text","align":"right","baseline":"middle","font":"Liberation Mono","fontSize":18,"color":"#555"},"encoding":{"x":{"datum":-0.084},"y":{"datum":-3.5},"text":{"field":"ch","type":"nominal"}}}
]},
{"width":251,"height":172,"layer":[
{"data":{"name":"one"},"mark":{"type":"rule","color":"#6e6e6e","strokeWidth":1.3,"clip":true},"encoding":{"x":{"datum":-0.1},"x2":{"datum":1},"y":{"datum":0}}},
{"data":{"name":"one"},"mark":{"type":"rule","color":"#6e6e6e","strokeWidth":1.3},"encoding":{"x":{"datum":0},"y":{"datum":-5},"y2":{"datum":5}}},
{"data":{"name":"caps"},"mark":{"type":"tick","orient":"horizontal","color":"#6e6e6e","size":6,"thickness":1.3,"opacity":1},"encoding":{"x":{"datum":0},"y":{"field":"uv","type":"quantitative"}}},
{"data":{"name":"xticks"},"mark":{"type":"tick","orient":"vertical","color":"#6e6e6e","size":6,"thickness":1.3,"opacity":1},"encoding":{"x":{"field":"t","type":"quantitative"},"y":{"datum":0}}},
{"data":{"name":"eeg"},"transform":[{"filter":{"field":"ch","equal":"P4"}},{"fold":["Correct","Incorrect"],"as":["cond","uv"]}],"mark":{"type":"line","interpolate":"monotone","clip":true},"encoding":{"x":{"field":"t","type":"quantitative","scale":{"domain":[-0.255,1],"nice":false,"zero":false}},"y":{"field":"uv","type":"quantitative","scale":{"domain":[-5.578,6.122],"nice":false,"zero":false,"reverse":true}},"color":{"field":"cond","type":"nominal","title":"Legend:","scale":{"domain":["Incorrect","Correct"],"range":["#303030","#8c8c8c"]},"legend":{"orient":"none","legendX":561,"legendY":847}},"strokeDash":{"field":"cond","type":"nominal","title":"Legend:","scale":{"domain":["Incorrect","Correct"],"range":[[1,0],[1.6,1.4]]}},"strokeWidth":{"field":"cond","type":"nominal","title":"Legend:","scale":{"domain":["Incorrect","Correct"],"range":[1.7,1.1]}}}},
{"data":{"values":[{"ch":"P4"}]},"mark":{"type":"text","align":"right","baseline":"middle","font":"Liberation Mono","fontSize":18,"color":"#555"},"encoding":{"x":{"datum":-0.08},"y":{"datum":-3.5},"text":{"field":"ch","type":"nominal"}}}
]}
], "spacing": 0, "bounds": "flush"},
{"width":420,"height":209,"layer":[
{"data":{"name":"one"},"mark":{"type":"rule","color":"#6e6e6e","strokeWidth":1.3},"encoding":{"x":{"datum":-0.1},"x2":{"datum":1},"y":{"datum":0}}},
{"data":{"name":"one"},"mark":{"type":"rule","color":"#6e6e6e","strokeWidth":1.3},"encoding":{"x":{"datum":0},"y":{"datum":-5},"y2":{"datum":5}}},
{"data":{"name":"caps"},"mark":{"type":"tick","orient":"horizontal","color":"#6e6e6e","size":6,"thickness":1.3,"opacity":1},"encoding":{"x":{"datum":0},"y":{"field":"uv","type":"quantitative","scale":{"domain":[-8.116,6.102],"nice":false,"zero":false,"reverse":true}}}},
{"data":{"name":"xticks"},"mark":{"type":"tick","orient":"vertical","color":"#6e6e6e","size":6,"thickness":1.3,"opacity":1},"encoding":{"x":{"field":"t","type":"quantitative","scale":{"domain":[-1.06,1.04],"nice":false,"zero":false}},"y":{"datum":0}}},
{"data":{"name":"xticks"},"mark":{"type":"text","align":"right","baseline":"middle","dx":-1,"font":"Liberation Mono","fontSize":14,"color":"#555"},"encoding":{"x":{"field":"t","type":"quantitative"},"y":{"datum":1.9},"text":{"field":"t","type":"quantitative","format":".1f"}}},
{"data":{"name":"one"},"mark":{"type":"text","align":"right","baseline":"middle","font":"Liberation Mono","fontSize":14,"color":"#555"},"encoding":{"x":{"datum":-0.168},"y":{"datum":-4.41},"text":{"value":"-5"}}},
{"data":{"name":"one"},"mark":{"type":"text","align":"right","baseline":"middle","font":"Liberation Mono","fontSize":14,"color":"#555"},"encoding":{"x":{"datum":-0.097},"y":{"datum":5.5},"text":{"value":"5"}}},
{"data":{"name":"one"},"mark":{"type":"text","align":"left","baseline":"middle","font":"Liberation Mono","fontSize":14,"color":"#555"},"encoding":{"x":{"datum":0.03},"y":{"datum":-3.69},"text":{"value":"μV"}}},
{"data":{"name":"one"},"mark":{"type":"text","align":"center","baseline":"middle","font":"Liberation Mono","fontSize":14,"color":"#555"},"encoding":{"x":{"datum":0.93},"y":{"datum":-0.6},"text":{"value":"s"}}}
]}
],
"spacing": 0,
"config": {
"view": {"stroke": null},
"axis": {"disable": true},
"legend": {"titleFont": "Liberation Mono", "titleFontSize": 20, "titleFontWeight": "normal", "titleColor": "#444", "labelFont": "Liberation Mono", "labelFontSize": 20, "labelColor": "#444", "symbolType": "stroke", "symbolSize": 484, "labelOffset": 14, "rowPadding": 0, "titlePadding": 0, "padding": 0, "labelLimit": 300}
}
}
